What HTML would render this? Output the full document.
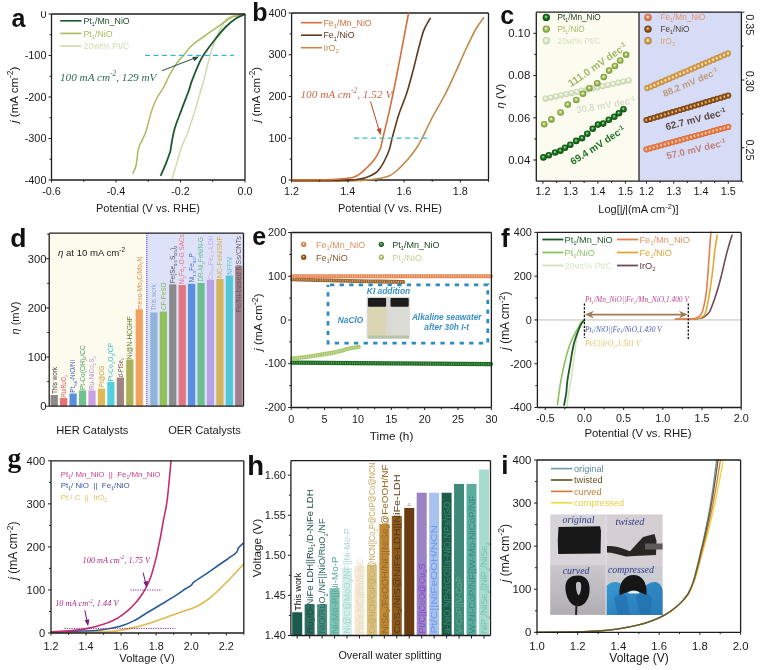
<!DOCTYPE html>
<html><head><meta charset="utf-8"><title>Figure</title>
<style>
html,body{margin:0;padding:0;background:#fff;}
body{width:763px;height:670px;overflow:hidden;}
svg{display:block;font-family:"Liberation Sans", Arial, sans-serif;filter:blur(0.4px);}
</style></head><body>
<svg width="763" height="670" viewBox="0 0 763 670">
<defs><radialGradient id="gMn" cx="0.5" cy="0.5" r="0.55" fx="0.45" fy="0.4"><stop offset="0" stop-color="#8ee08e"/><stop offset="0.1" stop-color="#8ee08e"/><stop offset="0.42" stop-color="#1f7a24"/><stop offset="1" stop-color="#0b3d0e"/></radialGradient>
<radialGradient id="gNi" cx="0.5" cy="0.5" r="0.55" fx="0.45" fy="0.4"><stop offset="0" stop-color="#eef7c8"/><stop offset="0.1" stop-color="#eef7c8"/><stop offset="0.42" stop-color="#a3c05a"/><stop offset="1" stop-color="#6e8c34"/></radialGradient>
<radialGradient id="gPC" cx="0.5" cy="0.5" r="0.55" fx="0.45" fy="0.4"><stop offset="0" stop-color="#ffffff"/><stop offset="0.1" stop-color="#ffffff"/><stop offset="0.42" stop-color="#dde8c8"/><stop offset="1" stop-color="#c2d0a8"/></radialGradient>
<radialGradient id="gFM" cx="0.5" cy="0.5" r="0.55" fx="0.45" fy="0.4"><stop offset="0" stop-color="#ffe0c8"/><stop offset="0.1" stop-color="#ffe0c8"/><stop offset="0.42" stop-color="#ea8a58"/><stop offset="1" stop-color="#c0582a"/></radialGradient>
<radialGradient id="gFN" cx="0.5" cy="0.5" r="0.55" fx="0.45" fy="0.4"><stop offset="0" stop-color="#f4d0a0"/><stop offset="0.1" stop-color="#f4d0a0"/><stop offset="0.42" stop-color="#9a5a1a"/><stop offset="1" stop-color="#5e3208"/></radialGradient>
<radialGradient id="gIr" cx="0.5" cy="0.5" r="0.55" fx="0.45" fy="0.4"><stop offset="0" stop-color="#fff0c8"/><stop offset="0.1" stop-color="#fff0c8"/><stop offset="0.42" stop-color="#dca55a"/><stop offset="1" stop-color="#a8742a"/></radialGradient>
<radialGradient id="gIr2" cx="0.5" cy="0.5" r="0.5"><stop offset="0" stop-color="#fff4d0"/><stop offset="0.25" stop-color="#f4d8a0"/><stop offset="0.55" stop-color="#d8a050"/><stop offset="1" stop-color="#c08838"/></radialGradient>
<radialGradient id="gFN2" cx="0.5" cy="0.5" r="0.5"><stop offset="0" stop-color="#f8dcb0"/><stop offset="0.25" stop-color="#d8a060"/><stop offset="0.55" stop-color="#94561a"/><stop offset="1" stop-color="#6e3c0c"/></radialGradient>
<radialGradient id="gFM2" cx="0.5" cy="0.5" r="0.5"><stop offset="0" stop-color="#ffe4cc"/><stop offset="0.25" stop-color="#f8b890"/><stop offset="0.55" stop-color="#e8804c"/><stop offset="1" stop-color="#d06a38"/></radialGradient>
<radialGradient id="gE1" cx="0.5" cy="0.5" r="0.55" fx="0.45" fy="0.4"><stop offset="0" stop-color="#ffe0c8"/><stop offset="0.1" stop-color="#ffe0c8"/><stop offset="0.42" stop-color="#e89060"/><stop offset="1" stop-color="#b86030"/></radialGradient>
<radialGradient id="gE2" cx="0.5" cy="0.5" r="0.55" fx="0.45" fy="0.4"><stop offset="0" stop-color="#f0c898"/><stop offset="0.1" stop-color="#f0c898"/><stop offset="0.42" stop-color="#9a6028"/><stop offset="1" stop-color="#603810"/></radialGradient>
<radialGradient id="gE3" cx="0.5" cy="0.5" r="0.55" fx="0.45" fy="0.4"><stop offset="0" stop-color="#a0e0a0"/><stop offset="0.1" stop-color="#a0e0a0"/><stop offset="0.42" stop-color="#2a7a2a"/><stop offset="1" stop-color="#0e400e"/></radialGradient>
<radialGradient id="gE4" cx="0.5" cy="0.5" r="0.55" fx="0.45" fy="0.4"><stop offset="0" stop-color="#f4fad8"/><stop offset="0.1" stop-color="#f4fad8"/><stop offset="0.42" stop-color="#b8cc80"/><stop offset="1" stop-color="#8aa050"/></radialGradient>
<linearGradient id="gBL" x1="0" y1="0" x2="0" y2="1"><stop offset="0" stop-color="#cac8cc"/><stop offset="1" stop-color="#b0aeb3"/></linearGradient>
<linearGradient id="gGl" x1="0" y1="0" x2="1" y2="1"><stop offset="0" stop-color="#3b9ad2"/><stop offset="0.5" stop-color="#2d86c2"/><stop offset="1" stop-color="#2a7cb8"/></linearGradient></defs>
<rect width="763" height="670" fill="#fff"/>
<path d="M172 179.3 C172.7 176.92 174.65 170.23 176.2 165 C177.75 159.77 179.3 153.58 181.3 147.9 C183.3 142.22 185.92 137.15 188.2 130.9 C190.48 124.65 192.88 117.22 195 110.4 C197.12 103.58 199.48 94.8 200.9 90 C202.32 85.2 202.22 86.42 203.5 81.6 C204.78 76.78 206.9 67.35 208.6 61.1 C210.3 54.85 212 48.92 213.7 44.1 C215.4 39.28 216.82 36.18 218.8 32.2 C220.78 28.22 223.32 22.9 225.6 20.2 C227.88 17.5 229.35 16.98 232.5 16 C235.65 15.02 242.5 14.58 244.5 14.3" fill="none" stroke="#cfdcae" stroke-width="1.5" stroke-linejoin="round" stroke-linecap="round" />
<path d="M132.8 173.5 C133.37 172.08 135.22 169.27 136.2 165 C137.18 160.73 137.13 153.3 138.7 147.9 C140.27 142.5 143.6 138.27 145.6 132.6 C147.6 126.93 149 119.33 150.7 113.9 C152.4 108.47 153.72 104.32 155.8 100 C157.88 95.68 160.95 92.08 163.2 88 C165.45 83.92 167.5 78.95 169.3 75.5 C171.1 72.05 172.42 69.8 174 67.3 C175.58 64.8 177.22 62.47 178.8 60.5 C180.38 58.53 181.37 57.95 183.5 55.5 C185.63 53.05 187.98 49.12 191.6 45.8 C195.22 42.48 200.67 38.87 205.2 35.6 C209.73 32.33 214.53 29.18 218.8 26.2 C223.07 23.22 226.52 19.68 230.8 17.7 C235.08 15.72 242.22 14.87 244.5 14.3" fill="none" stroke="#a9bb5e" stroke-width="1.5" stroke-linejoin="round" stroke-linecap="round" />
<path d="M160.9 175.2 C161.75 173.22 164.43 167.28 166 163.3 C167.57 159.32 169.45 154.15 170.3 151.3 C171.15 148.45 170.4 149.88 171.1 146.2 C171.8 142.52 172.8 135.17 174.5 129.2 C176.2 123.23 178.88 116.93 181.3 110.4 C183.72 103.87 187.28 94.8 189 90 C190.72 85.2 189.75 86.42 191.6 81.6 C193.45 76.78 197.83 65.93 200.1 61.1 C202.37 56.27 202.65 56.28 205.2 52.6 C207.75 48.92 212 43.27 215.4 39 C218.8 34.73 222.18 30.42 225.6 27 C229.02 23.58 232.75 20.58 235.9 18.5 C239.05 16.42 243.07 15.17 244.5 14.5" fill="none" stroke="#1f5a2c" stroke-width="1.8" stroke-linejoin="round" stroke-linecap="round" />
<line x1="145" y1="55.4" x2="234" y2="55.4" stroke="#3cb4d4" stroke-width="1.3" stroke-dasharray="5 3.5"/>
<line x1="162" y1="70.7" x2="196" y2="57.6" stroke="#234f40" stroke-width="1" />
<path d="M199 56.6 L192.2 57 L194.6 61.2 Z" fill="#234f40"/>
<line x1="51.5" y1="14" x2="245" y2="14" stroke="#1e1e1e" stroke-width="1.3" />
<line x1="51.5" y1="180" x2="245" y2="180" stroke="#1e1e1e" stroke-width="1.3" />
<line x1="51.5" y1="14" x2="51.5" y2="180" stroke="#1e1e1e" stroke-width="1.3" />
<line x1="245" y1="14" x2="245" y2="180" stroke="#1e1e1e" stroke-width="1.3" />
<line x1="51.5" y1="55.5" x2="48.5" y2="55.5" stroke="#1e1e1e" stroke-width="1" />
<line x1="51.5" y1="97" x2="48.5" y2="97" stroke="#1e1e1e" stroke-width="1" />
<line x1="51.5" y1="138.5" x2="48.5" y2="138.5" stroke="#1e1e1e" stroke-width="1" />
<line x1="51.5" y1="180" x2="48.5" y2="180" stroke="#1e1e1e" stroke-width="1" />
<line x1="51.5" y1="14" x2="48.5" y2="14" stroke="#1e1e1e" stroke-width="1" />
<line x1="51.5" y1="34.75" x2="49.5" y2="34.75" stroke="#1e1e1e" stroke-width="1" />
<line x1="51.5" y1="76.25" x2="49.5" y2="76.25" stroke="#1e1e1e" stroke-width="1" />
<line x1="51.5" y1="117.75" x2="49.5" y2="117.75" stroke="#1e1e1e" stroke-width="1" />
<line x1="51.5" y1="159.25" x2="49.5" y2="159.25" stroke="#1e1e1e" stroke-width="1" />
<line x1="51.5" y1="180" x2="51.5" y2="182.5" stroke="#1e1e1e" stroke-width="1" />
<line x1="116" y1="180" x2="116" y2="182.5" stroke="#1e1e1e" stroke-width="1" />
<line x1="180.5" y1="180" x2="180.5" y2="182.5" stroke="#1e1e1e" stroke-width="1" />
<line x1="245" y1="180" x2="245" y2="182.5" stroke="#1e1e1e" stroke-width="1" />
<line x1="83.75" y1="180" x2="83.75" y2="181.8" stroke="#1e1e1e" stroke-width="1" />
<line x1="148.25" y1="180" x2="148.25" y2="181.8" stroke="#1e1e1e" stroke-width="1" />
<line x1="212.75" y1="180" x2="212.75" y2="181.8" stroke="#1e1e1e" stroke-width="1" />
<text x="46.5" y="17.7" font-size="10.9" fill="#1a1a1a" text-anchor="end" >0</text>
<text x="46.5" y="59.2" font-size="10.9" fill="#1a1a1a" text-anchor="end" >-100</text>
<text x="46.5" y="100.7" font-size="10.9" fill="#1a1a1a" text-anchor="end" >-200</text>
<text x="46.5" y="142.2" font-size="10.9" fill="#1a1a1a" text-anchor="end" >-300</text>
<text x="46.5" y="183.7" font-size="10.9" fill="#1a1a1a" text-anchor="end" >-400</text>
<text x="51.5" y="194.5" font-size="10.8" fill="#1a1a1a" text-anchor="middle" >-0.6</text>
<text x="116" y="194.5" font-size="10.8" fill="#1a1a1a" text-anchor="middle" >-0.4</text>
<text x="180.5" y="194.5" font-size="10.8" fill="#1a1a1a" text-anchor="middle" >-0.2</text>
<text x="245" y="194.5" font-size="10.8" fill="#1a1a1a" text-anchor="middle" >0.0</text>
<rect x="38" y="0" width="10" height="11.2" fill="#fff" />
<text x="148" y="212" font-size="11" fill="#1a1a1a" text-anchor="middle" >Potential (V vs. RHE)</text>
<text x="17.8" y="94.8" font-size="11.6" fill="#1a1a1a" text-anchor="middle" transform="rotate(-90 17.8 94.8)"><tspan font-style="italic">j</tspan> (mA cm<tspan font-size="8.35" dy="-4.5">-2</tspan><tspan dy="4.5">)</tspan></text>
<text x="11.5" y="26.5" font-size="25" fill="#111" text-anchor="start" font-weight="bold" >a</text>
<line x1="60.2" y1="20.8" x2="81.5" y2="20.8" stroke="#1f5a2c" stroke-width="1.6" />
<text x="83.5" y="24" font-size="8.8" fill="#1f4a2a" text-anchor="start"><tspan>Pt</tspan><tspan font-size="5.72" dy="2.2">1</tspan><tspan dy="-2.2">/Mn_NiO</tspan></text>
<line x1="60.2" y1="33.4" x2="81.5" y2="33.4" stroke="#a9bb5e" stroke-width="1.6" />
<text x="83.5" y="36.6" font-size="8.8" fill="#a9bb5e" text-anchor="start"><tspan>Pt</tspan><tspan font-size="5.72" dy="2.2">1</tspan><tspan dy="-2.2">/NiO</tspan></text>
<line x1="60.2" y1="46" x2="81.5" y2="46" stroke="#cfdcae" stroke-width="1.6" />
<text x="83.5" y="49.2" font-size="8.8" fill="#cfdcae" text-anchor="start"><tspan>20wt% Pt/C</tspan></text>
<text x="60" y="80.5" font-size="11.2" fill="#2a6a5a" text-anchor="start" font-style="italic" font-family='"Liberation Serif", "Times New Roman", serif'><tspan>100 mA cm</tspan><tspan font-size="7.28" dy="-4.48">-2</tspan><tspan dy="4.48">, 129 mV</tspan></text>
<line x1="291.6" y1="13" x2="488.5" y2="13" stroke="#1e1e1e" stroke-width="1.3" />
<line x1="291.6" y1="180" x2="488.5" y2="180" stroke="#1e1e1e" stroke-width="1.3" />
<line x1="291.6" y1="13" x2="291.6" y2="180" stroke="#1e1e1e" stroke-width="1.3" />
<line x1="488.5" y1="13" x2="488.5" y2="180" stroke="#1e1e1e" stroke-width="1.3" />
<path d="M292.6 181.1 C298.83 181.1 319.6 181.17 330 181.1 C340.4 181.03 348.33 180.93 355 180.7 C361.67 180.47 365.83 180.1 370 179.7 C374.17 179.3 376.65 179 380 178.3 C383.35 177.6 386.88 177.17 390.1 175.5 C393.32 173.83 396.25 171.08 399.3 168.3 C402.35 165.52 405.53 162.18 408.4 158.8 C411.27 155.42 414.23 151.38 416.5 148 C418.77 144.62 419.5 143.33 422 138.5 C424.5 133.67 427.75 126.17 431.5 119 C435.25 111.83 440.58 103.08 444.5 95.5 C448.42 87.92 451.5 81.08 455 73.5 C458.5 65.92 462.02 57.42 465.5 50 C468.98 42.58 472.87 34.37 475.9 29 C478.93 23.63 482.4 19.67 483.7 17.8" fill="none" stroke="#c08a48" stroke-width="1.6" stroke-linejoin="round" stroke-linecap="round" />
<path d="M292.6 180.4 C300.5 180.4 329.6 180.5 340 180.4 C350.4 180.3 350.63 180.28 355 179.8 C359.37 179.32 362.8 178.63 366.2 177.5 C369.6 176.37 373.1 174.53 375.4 173 C377.7 171.47 378.47 170.38 380 168.3 C381.53 166.22 383.07 163.55 384.6 160.5 C386.13 157.45 387.93 153.73 389.2 150 C390.47 146.27 390.6 144.02 392.2 138.1 C393.8 132.18 396.4 121.92 398.8 114.5 C401.2 107.08 404.2 101 406.6 93.6 C409 86.2 411.23 77.5 413.2 70.1 C415.17 62.7 416.67 55.73 418.4 49.2 C420.13 42.67 421.85 35.68 423.6 30.9 C425.35 26.12 427.77 22.57 428.9 20.5 C430.03 18.43 430.15 18.83 430.4 18.5" fill="none" stroke="#5b3a1e" stroke-width="1.6" stroke-linejoin="round" stroke-linecap="round" />
<path d="M292.6 179.7 C298 179.7 317.1 179.82 325 179.7 C332.9 179.58 335.27 179.4 340 179 C344.73 178.6 349.9 178.3 353.4 177.3 C356.9 176.3 358.87 174.5 361 173 C363.13 171.5 364.1 170.38 366.2 168.3 C368.3 166.22 371.3 163.63 373.6 160.5 C375.9 157.37 378.47 153.22 380 149.5 C381.53 145.78 381.18 144.9 382.8 138.2 C384.42 131.5 387.47 119.33 389.7 109.3 C391.93 99.27 394.03 88.88 396.2 78 C398.37 67.12 400.65 54.75 402.7 44 C404.75 33.25 407.53 18.58 408.5 13.5" fill="none" stroke="#d2703e" stroke-width="1.6" stroke-linejoin="round" stroke-linecap="round" />
<line x1="354" y1="138.2" x2="429" y2="138.2" stroke="#3cb4d4" stroke-width="1.3" stroke-dasharray="5 3.5"/>
<line x1="370.5" y1="101.5" x2="379.2" y2="130.5" stroke="#b84a2a" stroke-width="1" />
<path d="M380.6 135.3 L376.6 129.2 L381.3 128 Z" fill="#b84a2a"/>
<line x1="291.6" y1="180" x2="288.6" y2="180" stroke="#1e1e1e" stroke-width="1" />
<line x1="291.6" y1="138.25" x2="288.6" y2="138.25" stroke="#1e1e1e" stroke-width="1" />
<line x1="291.6" y1="96.5" x2="288.6" y2="96.5" stroke="#1e1e1e" stroke-width="1" />
<line x1="291.6" y1="54.75" x2="288.6" y2="54.75" stroke="#1e1e1e" stroke-width="1" />
<line x1="291.6" y1="13" x2="288.6" y2="13" stroke="#1e1e1e" stroke-width="1" />
<line x1="291.6" y1="159.12" x2="289.6" y2="159.12" stroke="#1e1e1e" stroke-width="1" />
<line x1="291.6" y1="117.38" x2="289.6" y2="117.38" stroke="#1e1e1e" stroke-width="1" />
<line x1="291.6" y1="75.62" x2="289.6" y2="75.62" stroke="#1e1e1e" stroke-width="1" />
<line x1="291.6" y1="33.88" x2="289.6" y2="33.88" stroke="#1e1e1e" stroke-width="1" />
<line x1="291.6" y1="180" x2="291.6" y2="182.5" stroke="#1e1e1e" stroke-width="1" />
<line x1="347.86" y1="180" x2="347.86" y2="182.5" stroke="#1e1e1e" stroke-width="1" />
<line x1="404.11" y1="180" x2="404.11" y2="182.5" stroke="#1e1e1e" stroke-width="1" />
<line x1="460.37" y1="180" x2="460.37" y2="182.5" stroke="#1e1e1e" stroke-width="1" />
<line x1="319.73" y1="180" x2="319.73" y2="181.8" stroke="#1e1e1e" stroke-width="1" />
<line x1="375.99" y1="180" x2="375.99" y2="181.8" stroke="#1e1e1e" stroke-width="1" />
<line x1="432.24" y1="180" x2="432.24" y2="181.8" stroke="#1e1e1e" stroke-width="1" />
<line x1="488.5" y1="180" x2="488.5" y2="181.8" stroke="#1e1e1e" stroke-width="1" />
<text x="286.6" y="183.7" font-size="10.9" fill="#1a1a1a" text-anchor="end" >0</text>
<text x="286.6" y="141.95" font-size="10.9" fill="#1a1a1a" text-anchor="end" >100</text>
<text x="286.6" y="100.2" font-size="10.9" fill="#1a1a1a" text-anchor="end" >200</text>
<text x="286.6" y="58.45" font-size="10.9" fill="#1a1a1a" text-anchor="end" >300</text>
<text x="286.6" y="16.7" font-size="10.9" fill="#1a1a1a" text-anchor="end" >400</text>
<text x="291.6" y="195.3" font-size="10.8" fill="#1a1a1a" text-anchor="middle" >1.2</text>
<text x="347.86" y="195.3" font-size="10.8" fill="#1a1a1a" text-anchor="middle" >1.4</text>
<text x="404.11" y="195.3" font-size="10.8" fill="#1a1a1a" text-anchor="middle" >1.6</text>
<text x="460.37" y="195.3" font-size="10.8" fill="#1a1a1a" text-anchor="middle" >1.8</text>
<text x="390" y="212" font-size="11" fill="#1a1a1a" text-anchor="middle" >Potential (V vs. RHE)</text>
<text x="259.8" y="94.6" font-size="11.4" fill="#1a1a1a" text-anchor="middle" transform="rotate(-90 259.8 94.6)"><tspan font-style="italic">j</tspan> (mA cm<tspan font-size="8.21" dy="-4.5">-2</tspan><tspan dy="4.5">)</tspan></text>
<text x="252.2" y="21" font-size="25" fill="#111" text-anchor="start" font-weight="bold" >b</text>
<line x1="301" y1="22.7" x2="322" y2="22.7" stroke="#d2703e" stroke-width="1.6" />
<text x="323.5" y="25.9" font-size="8.8" fill="#d2703e" text-anchor="start"><tspan>Fe</tspan><tspan font-size="5.72" dy="2.2">1</tspan><tspan dy="-2.2">/Mn_NiO</tspan></text>
<line x1="301" y1="35.2" x2="322" y2="35.2" stroke="#5b3a1e" stroke-width="1.6" />
<text x="323.5" y="38.4" font-size="8.8" fill="#5b3a1e" text-anchor="start"><tspan>Fe</tspan><tspan font-size="5.72" dy="2.2">1</tspan><tspan dy="-2.2">/NiO</tspan></text>
<line x1="301" y1="47.7" x2="322" y2="47.7" stroke="#c08a48" stroke-width="1.6" />
<text x="323.5" y="50.9" font-size="8.8" fill="#c08a48" text-anchor="start"><tspan>IrO</tspan><tspan font-size="5.72" dy="2.2">2</tspan></text>
<text x="300.4" y="97.5" font-size="11.3" fill="#c86a4a" text-anchor="start" font-style="italic" font-family='"Liberation Serif", "Times New Roman", serif'><tspan>100 mA cm</tspan><tspan font-size="7.35" dy="-4.52">-2</tspan><tspan dy="4.52">, 1.52 V</tspan></text>
<rect x="536.3" y="12.2" width="102.7" height="169" fill="#fcfbef" />
<rect x="639" y="12.2" width="102.4" height="169" fill="#d6dbf6" />
<circle cx="545.5" cy="98.7" r="3.1" fill="url(#gPC)"/>
<circle cx="550.7" cy="97.56" r="3.1" fill="url(#gPC)"/>
<circle cx="555.9" cy="96.41" r="3.1" fill="url(#gPC)"/>
<circle cx="561.1" cy="95.27" r="3.1" fill="url(#gPC)"/>
<circle cx="566.3" cy="94.12" r="3.1" fill="url(#gPC)"/>
<circle cx="571.5" cy="92.98" r="3.1" fill="url(#gPC)"/>
<circle cx="576.7" cy="91.84" r="3.1" fill="url(#gPC)"/>
<circle cx="581.9" cy="90.69" r="3.1" fill="url(#gPC)"/>
<circle cx="587.1" cy="89.55" r="3.1" fill="url(#gPC)"/>
<circle cx="592.3" cy="88.41" r="3.1" fill="url(#gPC)"/>
<circle cx="597.5" cy="87.26" r="3.1" fill="url(#gPC)"/>
<circle cx="602.7" cy="86.12" r="3.1" fill="url(#gPC)"/>
<circle cx="607.9" cy="84.98" r="3.1" fill="url(#gPC)"/>
<circle cx="613.1" cy="83.83" r="3.1" fill="url(#gPC)"/>
<circle cx="618.3" cy="82.69" r="3.1" fill="url(#gPC)"/>
<circle cx="623.5" cy="81.54" r="3.1" fill="url(#gPC)"/>
<circle cx="628.7" cy="80.4" r="3.1" fill="url(#gPC)"/>
<circle cx="544.2" cy="124.3" r="3.3" fill="url(#gNi)"/>
<circle cx="551.4" cy="119.4" r="3.3" fill="url(#gNi)"/>
<circle cx="560.6" cy="112.5" r="3.3" fill="url(#gNi)"/>
<circle cx="567.8" cy="104.6" r="3.3" fill="url(#gNi)"/>
<circle cx="576.3" cy="100" r="3.3" fill="url(#gNi)"/>
<circle cx="582.9" cy="93.8" r="3.3" fill="url(#gNi)"/>
<circle cx="589.4" cy="88.3" r="3.3" fill="url(#gNi)"/>
<circle cx="597.3" cy="83.3" r="3.3" fill="url(#gNi)"/>
<circle cx="603.8" cy="77.1" r="3.3" fill="url(#gNi)"/>
<circle cx="609.1" cy="70.6" r="3.3" fill="url(#gNi)"/>
<circle cx="615" cy="66" r="3.3" fill="url(#gNi)"/>
<circle cx="620.2" cy="60.5" r="3.3" fill="url(#gNi)"/>
<circle cx="626.1" cy="54.8" r="3.3" fill="url(#gNi)"/>
<circle cx="543.4" cy="157.4" r="3.3" fill="url(#gMn)"/>
<circle cx="548.8" cy="155.2" r="3.3" fill="url(#gMn)"/>
<circle cx="555.1" cy="152.5" r="3.3" fill="url(#gMn)"/>
<circle cx="560.4" cy="150.8" r="3.3" fill="url(#gMn)"/>
<circle cx="565" cy="147.7" r="3.3" fill="url(#gMn)"/>
<circle cx="570.3" cy="144.8" r="3.3" fill="url(#gMn)"/>
<circle cx="576.2" cy="140.9" r="3.3" fill="url(#gMn)"/>
<circle cx="582" cy="138.2" r="3.3" fill="url(#gMn)"/>
<circle cx="587.3" cy="133.7" r="3.3" fill="url(#gMn)"/>
<circle cx="592.7" cy="128.8" r="3.3" fill="url(#gMn)"/>
<circle cx="598" cy="124.6" r="3.3" fill="url(#gMn)"/>
<circle cx="603.2" cy="123.6" r="3.3" fill="url(#gMn)"/>
<circle cx="608.8" cy="119.7" r="3.3" fill="url(#gMn)"/>
<circle cx="614.3" cy="116.8" r="3.3" fill="url(#gMn)"/>
<circle cx="618.9" cy="113.2" r="3.3" fill="url(#gMn)"/>
<circle cx="623.5" cy="109.2" r="3.3" fill="url(#gMn)"/>
<circle cx="647.3" cy="88.1" r="3.1" fill="url(#gIr2)"/>
<circle cx="650.96" cy="86.52" r="3.1" fill="url(#gIr2)"/>
<circle cx="654.63" cy="84.95" r="3.1" fill="url(#gIr2)"/>
<circle cx="658.29" cy="83.37" r="3.1" fill="url(#gIr2)"/>
<circle cx="661.95" cy="81.79" r="3.1" fill="url(#gIr2)"/>
<circle cx="665.62" cy="80.21" r="3.1" fill="url(#gIr2)"/>
<circle cx="669.28" cy="78.64" r="3.1" fill="url(#gIr2)"/>
<circle cx="672.95" cy="77.06" r="3.1" fill="url(#gIr2)"/>
<circle cx="676.61" cy="75.48" r="3.1" fill="url(#gIr2)"/>
<circle cx="680.27" cy="73.9" r="3.1" fill="url(#gIr2)"/>
<circle cx="683.94" cy="72.33" r="3.1" fill="url(#gIr2)"/>
<circle cx="687.6" cy="70.75" r="3.1" fill="url(#gIr2)"/>
<circle cx="691.26" cy="69.17" r="3.1" fill="url(#gIr2)"/>
<circle cx="694.93" cy="67.6" r="3.1" fill="url(#gIr2)"/>
<circle cx="698.59" cy="66.02" r="3.1" fill="url(#gIr2)"/>
<circle cx="702.25" cy="64.44" r="3.1" fill="url(#gIr2)"/>
<circle cx="705.92" cy="62.86" r="3.1" fill="url(#gIr2)"/>
<circle cx="709.58" cy="61.29" r="3.1" fill="url(#gIr2)"/>
<circle cx="713.25" cy="59.71" r="3.1" fill="url(#gIr2)"/>
<circle cx="716.91" cy="58.13" r="3.1" fill="url(#gIr2)"/>
<circle cx="720.57" cy="56.55" r="3.1" fill="url(#gIr2)"/>
<circle cx="724.24" cy="54.98" r="3.1" fill="url(#gIr2)"/>
<circle cx="727.9" cy="53.4" r="3.1" fill="url(#gIr2)"/>
<circle cx="646.5" cy="120" r="3.1" fill="url(#gFN2)"/>
<circle cx="650.21" cy="118.89" r="3.1" fill="url(#gFN2)"/>
<circle cx="653.93" cy="117.77" r="3.1" fill="url(#gFN2)"/>
<circle cx="657.64" cy="116.66" r="3.1" fill="url(#gFN2)"/>
<circle cx="661.35" cy="115.55" r="3.1" fill="url(#gFN2)"/>
<circle cx="665.07" cy="114.43" r="3.1" fill="url(#gFN2)"/>
<circle cx="668.78" cy="113.32" r="3.1" fill="url(#gFN2)"/>
<circle cx="672.5" cy="112.2" r="3.1" fill="url(#gFN2)"/>
<circle cx="676.21" cy="111.09" r="3.1" fill="url(#gFN2)"/>
<circle cx="679.92" cy="109.98" r="3.1" fill="url(#gFN2)"/>
<circle cx="683.64" cy="108.86" r="3.1" fill="url(#gFN2)"/>
<circle cx="687.35" cy="107.75" r="3.1" fill="url(#gFN2)"/>
<circle cx="691.06" cy="106.64" r="3.1" fill="url(#gFN2)"/>
<circle cx="694.78" cy="105.52" r="3.1" fill="url(#gFN2)"/>
<circle cx="698.49" cy="104.41" r="3.1" fill="url(#gFN2)"/>
<circle cx="702.2" cy="103.3" r="3.1" fill="url(#gFN2)"/>
<circle cx="705.92" cy="102.18" r="3.1" fill="url(#gFN2)"/>
<circle cx="709.63" cy="101.07" r="3.1" fill="url(#gFN2)"/>
<circle cx="713.35" cy="99.95" r="3.1" fill="url(#gFN2)"/>
<circle cx="717.06" cy="98.84" r="3.1" fill="url(#gFN2)"/>
<circle cx="720.77" cy="97.73" r="3.1" fill="url(#gFN2)"/>
<circle cx="724.49" cy="96.61" r="3.1" fill="url(#gFN2)"/>
<circle cx="728.2" cy="95.5" r="3.1" fill="url(#gFN2)"/>
<circle cx="646.5" cy="149.3" r="3.1" fill="url(#gFM2)"/>
<circle cx="650.21" cy="148.28" r="3.1" fill="url(#gFM2)"/>
<circle cx="653.93" cy="147.26" r="3.1" fill="url(#gFM2)"/>
<circle cx="657.64" cy="146.25" r="3.1" fill="url(#gFM2)"/>
<circle cx="661.35" cy="145.23" r="3.1" fill="url(#gFM2)"/>
<circle cx="665.07" cy="144.21" r="3.1" fill="url(#gFM2)"/>
<circle cx="668.78" cy="143.19" r="3.1" fill="url(#gFM2)"/>
<circle cx="672.5" cy="142.17" r="3.1" fill="url(#gFM2)"/>
<circle cx="676.21" cy="141.15" r="3.1" fill="url(#gFM2)"/>
<circle cx="679.92" cy="140.14" r="3.1" fill="url(#gFM2)"/>
<circle cx="683.64" cy="139.12" r="3.1" fill="url(#gFM2)"/>
<circle cx="687.35" cy="138.1" r="3.1" fill="url(#gFM2)"/>
<circle cx="691.06" cy="137.08" r="3.1" fill="url(#gFM2)"/>
<circle cx="694.78" cy="136.06" r="3.1" fill="url(#gFM2)"/>
<circle cx="698.49" cy="135.05" r="3.1" fill="url(#gFM2)"/>
<circle cx="702.2" cy="134.03" r="3.1" fill="url(#gFM2)"/>
<circle cx="705.92" cy="133.01" r="3.1" fill="url(#gFM2)"/>
<circle cx="709.63" cy="131.99" r="3.1" fill="url(#gFM2)"/>
<circle cx="713.35" cy="130.97" r="3.1" fill="url(#gFM2)"/>
<circle cx="717.06" cy="129.95" r="3.1" fill="url(#gFM2)"/>
<circle cx="720.77" cy="128.94" r="3.1" fill="url(#gFM2)"/>
<circle cx="724.49" cy="127.92" r="3.1" fill="url(#gFM2)"/>
<circle cx="728.2" cy="126.9" r="3.1" fill="url(#gFM2)"/>
<text x="599.63" y="67.64" font-size="10.2" font-weight="bold" fill="#a0b868" text-anchor="middle" transform="rotate(-34.6 599.63 67.64)">111.0 mV dec<tspan font-size="6.63" dy="-3.5">-1</tspan></text>
<text x="606.34" y="108.24" font-size="9.4" font-weight="bold" fill="#d8dec8" text-anchor="middle" transform="rotate(-9.5 606.34 108.24)">30.8 mV dec<tspan font-size="6.11" dy="-3.5">-1</tspan></text>
<text x="599.48" y="148.31" font-size="9.9" font-weight="bold" fill="#1f7224" text-anchor="middle" transform="rotate(-32.8 599.48 148.31)">69.4 mV dec<tspan font-size="6.44" dy="-3.5">-1</tspan></text>
<text x="691.67" y="85.5" font-size="9.3" font-weight="bold" fill="#bc9c7c" text-anchor="middle" transform="rotate(-23 691.67 85.5)">88.2 mV dec<tspan font-size="6.05" dy="-3.5">-1</tspan></text>
<text x="696.55" y="122.51" font-size="9.75" font-weight="bold" fill="#5c4a3e" text-anchor="middle" transform="rotate(-14.4 696.55 122.51)">62.7 mV dec<tspan font-size="6.34" dy="-3.5">-1</tspan></text>
<text x="696.95" y="152.46" font-size="9.55" font-weight="bold" fill="#c08078" text-anchor="middle" transform="rotate(-13 696.95 152.46)">57.0 mV dec<tspan font-size="6.21" dy="-3.5">-1</tspan></text>
<line x1="536.3" y1="12.2" x2="741.4" y2="12.2" stroke="#1e1e1e" stroke-width="1.3" />
<line x1="536.3" y1="181.2" x2="741.4" y2="181.2" stroke="#1e1e1e" stroke-width="1.3" />
<line x1="536.3" y1="12.2" x2="536.3" y2="181.2" stroke="#1e1e1e" stroke-width="1.3" />
<line x1="741.4" y1="12.2" x2="741.4" y2="181.2" stroke="#1e1e1e" stroke-width="1.3" />
<line x1="639" y1="12.2" x2="639" y2="181.2" stroke="#333" stroke-width="1.4" />
<line x1="536.3" y1="33.32" x2="533.3" y2="33.32" stroke="#1e1e1e" stroke-width="1" />
<line x1="536.3" y1="75.56" x2="533.3" y2="75.56" stroke="#1e1e1e" stroke-width="1" />
<line x1="536.3" y1="117.8" x2="533.3" y2="117.8" stroke="#1e1e1e" stroke-width="1" />
<line x1="536.3" y1="160.04" x2="533.3" y2="160.04" stroke="#1e1e1e" stroke-width="1" />
<line x1="536.3" y1="54.44" x2="534.3" y2="54.44" stroke="#1e1e1e" stroke-width="1" />
<line x1="536.3" y1="96.68" x2="534.3" y2="96.68" stroke="#1e1e1e" stroke-width="1" />
<line x1="536.3" y1="138.92" x2="534.3" y2="138.92" stroke="#1e1e1e" stroke-width="1" />
<line x1="741.4" y1="12.2" x2="744.4" y2="12.2" stroke="#1e1e1e" stroke-width="1" />
<line x1="741.4" y1="80" x2="744.4" y2="80" stroke="#1e1e1e" stroke-width="1" />
<line x1="741.4" y1="147.8" x2="744.4" y2="147.8" stroke="#1e1e1e" stroke-width="1" />
<line x1="741.4" y1="46.1" x2="743.4" y2="46.1" stroke="#1e1e1e" stroke-width="1" />
<line x1="741.4" y1="113.9" x2="743.4" y2="113.9" stroke="#1e1e1e" stroke-width="1" />
<line x1="741.4" y1="181.7" x2="743.4" y2="181.7" stroke="#1e1e1e" stroke-width="1" />
<line x1="542.9" y1="181.2" x2="542.9" y2="183.7" stroke="#1e1e1e" stroke-width="1" />
<line x1="570.4" y1="181.2" x2="570.4" y2="183.7" stroke="#1e1e1e" stroke-width="1" />
<line x1="597.9" y1="181.2" x2="597.9" y2="183.7" stroke="#1e1e1e" stroke-width="1" />
<line x1="625.4" y1="181.2" x2="625.4" y2="183.7" stroke="#1e1e1e" stroke-width="1" />
<line x1="646.5" y1="181.2" x2="646.5" y2="183.7" stroke="#1e1e1e" stroke-width="1" />
<line x1="673.77" y1="181.2" x2="673.77" y2="183.7" stroke="#1e1e1e" stroke-width="1" />
<line x1="701.04" y1="181.2" x2="701.04" y2="183.7" stroke="#1e1e1e" stroke-width="1" />
<line x1="728.31" y1="181.2" x2="728.31" y2="183.7" stroke="#1e1e1e" stroke-width="1" />
<line x1="556.65" y1="181.2" x2="556.65" y2="183" stroke="#1e1e1e" stroke-width="1" />
<line x1="584.15" y1="181.2" x2="584.15" y2="183" stroke="#1e1e1e" stroke-width="1" />
<line x1="611.65" y1="181.2" x2="611.65" y2="183" stroke="#1e1e1e" stroke-width="1" />
<line x1="660.13" y1="181.2" x2="660.13" y2="183" stroke="#1e1e1e" stroke-width="1" />
<line x1="687.41" y1="181.2" x2="687.41" y2="183" stroke="#1e1e1e" stroke-width="1" />
<line x1="714.67" y1="181.2" x2="714.67" y2="183" stroke="#1e1e1e" stroke-width="1" />
<text x="530.3" y="37.22" font-size="11.4" fill="#1a1a1a" text-anchor="end" >0.10</text>
<text x="530.3" y="79.46" font-size="11.4" fill="#1a1a1a" text-anchor="end" >0.08</text>
<text x="530.3" y="121.7" font-size="11.4" fill="#1a1a1a" text-anchor="end" >0.06</text>
<text x="530.3" y="163.94" font-size="11.4" fill="#1a1a1a" text-anchor="end" >0.04</text>
<text x="746" y="24.7" font-size="10.8" fill="#1a1a1a" text-anchor="middle" transform="rotate(90 746 24.7)" >0.35</text>
<text x="746" y="81.2" font-size="10.8" fill="#1a1a1a" text-anchor="middle" transform="rotate(90 746 81.2)" >0.30</text>
<text x="746" y="150" font-size="10.8" fill="#1a1a1a" text-anchor="middle" transform="rotate(90 746 150)" >0.25</text>
<text x="542.9" y="194.5" font-size="10.8" fill="#1a1a1a" text-anchor="middle" >1.2</text>
<text x="646.5" y="194.5" font-size="10.8" fill="#1a1a1a" text-anchor="middle" >1.2</text>
<text x="570.4" y="194.5" font-size="10.8" fill="#1a1a1a" text-anchor="middle" >1.3</text>
<text x="673.77" y="194.5" font-size="10.8" fill="#1a1a1a" text-anchor="middle" >1.3</text>
<text x="597.9" y="194.5" font-size="10.8" fill="#1a1a1a" text-anchor="middle" >1.4</text>
<text x="701.04" y="194.5" font-size="10.8" fill="#1a1a1a" text-anchor="middle" >1.4</text>
<text x="625.4" y="194.5" font-size="10.8" fill="#1a1a1a" text-anchor="middle" >1.5</text>
<text x="728.31" y="194.5" font-size="10.8" fill="#1a1a1a" text-anchor="middle" >1.5</text>
<text x="638.5" y="212.5" font-size="11" fill="#1a1a1a" text-anchor="middle">Log[|<tspan font-style="italic">j</tspan>|(mA cm<tspan font-size="7.5" dy="-4">-2</tspan><tspan dy="4">)]</tspan></text>
<text x="504" y="96" font-size="11.5" fill="#1a1a1a" text-anchor="middle" transform="rotate(-90 504 96)"><tspan font-style="italic">η</tspan> (V)</text>
<text x="500.3" y="24.3" font-size="25" fill="#111" text-anchor="start" font-weight="bold" >c</text>
<circle cx="546.3" cy="17.4" r="3.7" fill="url(#gMn)"/>
<text x="557.6" y="20.4" font-size="8.2" fill="#1e3a22" text-anchor="start"><tspan>Pt</tspan><tspan font-size="5.33" dy="2.05">1</tspan><tspan dy="-2.05">/Mn_NiO</tspan></text>
<circle cx="546.3" cy="29.1" r="3.7" fill="url(#gNi)"/>
<text x="557.6" y="32.1" font-size="8.2" fill="#a9bd6a" text-anchor="start"><tspan>Pt</tspan><tspan font-size="5.33" dy="2.05">1</tspan><tspan dy="-2.05">/NiO</tspan></text>
<circle cx="546.3" cy="40.8" r="3.7" fill="url(#gPC)"/>
<text x="557.6" y="43.8" font-size="8.2" fill="#d8e0c4" text-anchor="start"><tspan>20wt% Pt/C</tspan></text>
<circle cx="648" cy="17.4" r="3.7" fill="url(#gFM)"/>
<text x="660.5" y="20.4" font-size="8.2" fill="#e8906a" text-anchor="start"><tspan>Fe</tspan><tspan font-size="5.33" dy="2.05">1</tspan><tspan dy="-2.05">/Mn_NiO</tspan></text>
<circle cx="648" cy="29.1" r="3.7" fill="url(#gFN)"/>
<text x="660.5" y="32.1" font-size="8.2" fill="#4a3a2a" text-anchor="start"><tspan>Fe</tspan><tspan font-size="5.33" dy="2.05">1</tspan><tspan dy="-2.05">/NiO</tspan></text>
<circle cx="648" cy="40.8" r="3.7" fill="url(#gIr)"/>
<text x="660.5" y="43.8" font-size="8.2" fill="#d8a868" text-anchor="start"><tspan>IrO</tspan><tspan font-size="5.33" dy="2.05">2</tspan></text>
<rect x="49.2" y="233.2" width="97.6" height="173" fill="#fdfaee" />
<rect x="146.8" y="233.2" width="96.7" height="173" fill="#dde2f8" />
<rect x="50.6" y="394.99" width="7.2" height="11.21" fill="#8c8a88" />
<text x="56.5" y="394" font-size="6.4" fill="#333333" textLength="27" lengthAdjust="spacingAndGlyphs" transform="rotate(-90 56.5 394)"><tspan>This work</tspan></text>
<rect x="60.05" y="397.99" width="7.2" height="8.21" fill="#ea7078" />
<text x="65.95" y="397" font-size="6.4" fill="#e06070" textLength="22" lengthAdjust="spacingAndGlyphs" transform="rotate(-90 65.95 397)"><tspan>Ru/RuO</tspan><tspan font-size="4.16" dy="1.6">2</tspan></text>
<rect x="69.5" y="393.52" width="7.2" height="12.68" fill="#5890e0" />
<text x="75.4" y="392.7" font-size="6.4" fill="#3f6cc0" textLength="32.7" lengthAdjust="spacingAndGlyphs" transform="rotate(-90 75.4 392.7)"><tspan>Pt</tspan><tspan font-size="4.16" dy="1.6">SA</tspan><tspan dy="-1.6">-NiO/Ni</tspan></text>
<rect x="78.95" y="390.47" width="7.2" height="15.73" fill="#70c090" />
<text x="84.85" y="390.1" font-size="6.4" fill="#50a070" textLength="45" lengthAdjust="spacingAndGlyphs" transform="rotate(-90 84.85 390.1)"><tspan>Pt-Co(OH)</tspan><tspan font-size="4.16" dy="1.6">2</tspan><tspan dy="-1.6">/CC</tspan></text>
<rect x="88.4" y="390.47" width="7.2" height="15.73" fill="#c8a0e8" />
<text x="94.3" y="390.1" font-size="6.4" fill="#b890d8" textLength="34" lengthAdjust="spacingAndGlyphs" transform="rotate(-90 94.3 390.1)"><tspan>Ru-NiCo</tspan><tspan font-size="4.16" dy="1.6">2</tspan><tspan dy="-1.6">S</tspan><tspan font-size="4.16" dy="1.6">4</tspan></text>
<rect x="97.85" y="388.51" width="7.2" height="17.69" fill="#e0b858" />
<text x="103.75" y="387.5" font-size="6.4" fill="#c8a040" textLength="22" lengthAdjust="spacingAndGlyphs" transform="rotate(-90 103.75 387.5)"><tspan>Pt@DG</tspan></text>
<rect x="107.3" y="381.82" width="7.2" height="24.38" fill="#50d0e0" />
<text x="113.2" y="381.5" font-size="6.4" fill="#40c0d0" textLength="38.6" lengthAdjust="spacingAndGlyphs" transform="rotate(-90 113.2 381.5)"><tspan>Pt-Co</tspan><tspan font-size="4.16" dy="1.6">3</tspan><tspan dy="-1.6">O</tspan><tspan font-size="4.16" dy="1.6">4</tspan><tspan dy="-1.6">/CP</tspan></text>
<rect x="116.75" y="377.55" width="7.2" height="28.65" fill="#a08484" />
<text x="122.65" y="377.2" font-size="6.4" fill="#705858" textLength="19" lengthAdjust="spacingAndGlyphs" transform="rotate(-90 122.65 377.2)"><tspan>d-PtSe</tspan><tspan font-size="4.16" dy="1.6">2</tspan></text>
<rect x="126.2" y="359.51" width="7.2" height="46.69" fill="#a8b058" />
<text x="132.1" y="359.2" font-size="6.4" fill="#707830" textLength="43" lengthAdjust="spacingAndGlyphs" transform="rotate(-90 132.1 359.2)"><tspan>Ni@N-HCGHF</tspan></text>
<rect x="135.65" y="309.37" width="7.2" height="96.83" fill="#f2a060" />
<text x="141.55" y="309.8" font-size="6.4" fill="#e09050" textLength="53" lengthAdjust="spacingAndGlyphs" transform="rotate(-90 141.55 309.8)"><tspan>meso-Mo</tspan><tspan font-size="4.16" dy="1.6">2</tspan><tspan dy="-1.6">C/Mo</tspan><tspan font-size="4.16" dy="1.6">2</tspan><tspan dy="-1.6">N</tspan></text>
<rect x="150.3" y="312.37" width="7.2" height="93.83" fill="#90b2dc" />
<text x="156.2" y="310.8" font-size="6.4" fill="#88a6d2" textLength="26.6" lengthAdjust="spacingAndGlyphs" transform="rotate(-90 156.2 310.8)"><tspan>This work</tspan></text>
<rect x="159.73" y="311.59" width="7.2" height="94.61" fill="#90c058" />
<text x="165.63" y="310" font-size="6.4" fill="#86b64e" textLength="27.5" lengthAdjust="spacingAndGlyphs" transform="rotate(-90 165.63 310)"><tspan>CF-FeSO</tspan></text>
<rect x="169.16" y="284.31" width="7.2" height="121.89" fill="#8a8a8a" />
<text x="175.06" y="283.3" font-size="6.4" fill="#4a4a4a" textLength="37.7" lengthAdjust="spacingAndGlyphs" transform="rotate(-90 175.06 283.3)"><tspan>Fe(Se</tspan><tspan font-size="4.16" dy="1.6">0.5</tspan><tspan dy="-1.6">S</tspan><tspan font-size="4.16" dy="1.6">0.5</tspan><tspan dy="-1.6">)</tspan><tspan font-size="4.16" dy="1.6">2</tspan></text>
<rect x="178.59" y="285.05" width="7.2" height="121.15" fill="#e47480" />
<text x="184.49" y="284.2" font-size="6.4" fill="#e87484" textLength="49.8" lengthAdjust="spacingAndGlyphs" transform="rotate(-90 184.49 284.2)"><tspan>Ni</tspan><tspan font-size="4.16" dy="1.6">1</tspan><tspan dy="-1.6">Fe</tspan><tspan font-size="4.16" dy="1.6">1</tspan><tspan dy="-1.6">-O-G SACs</tspan></text>
<rect x="188.02" y="283.82" width="7.2" height="122.38" fill="#5a90e0" />
<text x="193.92" y="282.5" font-size="6.4" fill="#4070c8" textLength="29.2" lengthAdjust="spacingAndGlyphs" transform="rotate(-90 193.92 282.5)"><tspan>Ni</tspan><tspan font-size="4.16" dy="1.6">1.5</tspan><tspan dy="-1.6">Fe</tspan><tspan font-size="4.16" dy="1.6">0.5</tspan><tspan dy="-1.6">P</tspan></text>
<rect x="197.45" y="282.93" width="7.2" height="123.27" fill="#6cc090" />
<text x="203.35" y="281.6" font-size="6.4" fill="#62bc88" textLength="44.6" lengthAdjust="spacingAndGlyphs" transform="rotate(-90 203.35 281.6)"><tspan>DR-Ni</tspan><tspan font-size="4.16" dy="1.6">3</tspan><tspan dy="-1.6">FeN/N-G</tspan></text>
<rect x="206.88" y="279.88" width="7.2" height="126.32" fill="#b8a0e8" />
<text x="212.78" y="280" font-size="6.4" fill="#c0b0ea" textLength="44.7" lengthAdjust="spacingAndGlyphs" transform="rotate(-90 212.78 280)"><tspan>Co</tspan><tspan font-size="4.16" dy="1.6">0.8</tspan><tspan dy="-1.6">Fe</tspan><tspan font-size="4.16" dy="1.6">0.2</tspan><tspan dy="-1.6">-LDH</tspan></text>
<rect x="216.31" y="278.95" width="7.2" height="127.25" fill="#d4b458" />
<text x="222.21" y="278" font-size="6.4" fill="#d4b04c" textLength="41.8" lengthAdjust="spacingAndGlyphs" transform="rotate(-90 222.21 278)"><tspan>NC-FeNiSNF</tspan></text>
<rect x="225.74" y="275.56" width="7.2" height="130.64" fill="#50c8d8" />
<text x="231.64" y="274.8" font-size="6.4" fill="#4cc4d4" textLength="18" lengthAdjust="spacingAndGlyphs" transform="rotate(-90 231.64 274.8)"><tspan>NFF/V</tspan></text>
<rect x="235.17" y="266.12" width="7.2" height="140.08" fill="#a08088" />
<text x="241.07" y="312.5" font-size="6.4" fill="#705860" textLength="76.5" lengthAdjust="spacingAndGlyphs" transform="rotate(-90 241.07 312.5)"><tspan>Fe/Ni-based NSs/CNTs</tspan></text>
<line x1="146.8" y1="233.2" x2="146.8" y2="406.2" stroke="#2a2ad0" stroke-width="1" stroke-dasharray="1 1"/>
<line x1="49.2" y1="233.2" x2="243.5" y2="233.2" stroke="#1e1e1e" stroke-width="1.3" />
<line x1="49.2" y1="406.2" x2="243.5" y2="406.2" stroke="#1e1e1e" stroke-width="1.3" />
<line x1="49.2" y1="233.2" x2="49.2" y2="406.2" stroke="#1e1e1e" stroke-width="1.3" />
<line x1="243.5" y1="233.2" x2="243.5" y2="406.2" stroke="#1e1e1e" stroke-width="1.3" />
<line x1="49.2" y1="406.2" x2="46.2" y2="406.2" stroke="#1e1e1e" stroke-width="1" />
<line x1="49.2" y1="357.05" x2="46.2" y2="357.05" stroke="#1e1e1e" stroke-width="1" />
<line x1="49.2" y1="307.9" x2="46.2" y2="307.9" stroke="#1e1e1e" stroke-width="1" />
<line x1="49.2" y1="258.75" x2="46.2" y2="258.75" stroke="#1e1e1e" stroke-width="1" />
<line x1="49.2" y1="381.62" x2="47.2" y2="381.62" stroke="#1e1e1e" stroke-width="1" />
<line x1="49.2" y1="332.48" x2="47.2" y2="332.48" stroke="#1e1e1e" stroke-width="1" />
<line x1="49.2" y1="283.32" x2="47.2" y2="283.32" stroke="#1e1e1e" stroke-width="1" />
<line x1="49.2" y1="234.17" x2="47.2" y2="234.17" stroke="#1e1e1e" stroke-width="1" />
<text x="46.4" y="410.1" font-size="11.2" fill="#1a1a1a" text-anchor="end" >0</text>
<text x="46.4" y="360.95" font-size="11.2" fill="#1a1a1a" text-anchor="end" >100</text>
<text x="46.4" y="311.8" font-size="11.2" fill="#1a1a1a" text-anchor="end" >200</text>
<text x="46.4" y="262.65" font-size="11.2" fill="#1a1a1a" text-anchor="end" >300</text>
<text x="58" y="255.8" font-size="9.6" fill="#1a1a1a"><tspan font-style="italic">η</tspan> at 10 mA cm<tspan font-size="6.5" dy="-3.5">-2</tspan></text>
<text x="92.3" y="434.3" font-size="11.1" fill="#1a1a1a" text-anchor="middle" >HER Catalysts</text>
<text x="204.5" y="434.3" font-size="11.1" fill="#1a1a1a" text-anchor="middle" >OER Catalysts</text>
<text x="18.5" y="318" font-size="11" fill="#1a1a1a" text-anchor="middle" transform="rotate(-90 18.5 318)"><tspan font-style="italic">η</tspan> (mV)</text>
<text x="10.3" y="246.5" font-size="26.5" fill="#111" text-anchor="start" font-weight="bold" >d</text>
<path d="M292.2 362.6 C308.72 362.72 358.18 363.03 391.3 363.3 C424.42 363.57 474.3 364.05 490.9 364.2" fill="none" stroke="#1f6a24" stroke-width="4.2" stroke-linecap="round" stroke-linejoin="round"/>
<path d="M292.2 362.6 C308.72 362.72 358.18 363.03 391.3 363.3 C424.42 363.57 474.3 364.05 490.9 364.2" fill="none" stroke="#6cc06c" stroke-width="2.1" stroke-dasharray="0.8 1.5" opacity="0.75"/>
<path d="M292.2 358.7 C295.58 358.25 305.45 357.05 312.5 356 C319.55 354.95 328.53 353.6 334.5 352.4 C340.47 351.2 344.25 349.72 348.3 348.8 C352.35 347.88 357.05 347.22 358.8 346.9" fill="none" stroke="#a8c870" stroke-width="4.2" stroke-linecap="round" stroke-linejoin="round"/>
<path d="M292.2 358.7 C295.58 358.25 305.45 357.05 312.5 356 C319.55 354.95 328.53 353.6 334.5 352.4 C340.47 351.2 344.25 349.72 348.3 348.8 C352.35 347.88 357.05 347.22 358.8 346.9" fill="none" stroke="#d8ecb0" stroke-width="2.1" stroke-dasharray="0.8 1.5" opacity="0.75"/>
<path d="M292.2 279.3 C298.5 279.48 317.03 280.07 330 280.4 C342.97 280.73 357.77 281.03 370 281.3 C382.23 281.57 397.83 281.88 403.4 282" fill="none" stroke="#9a6430" stroke-width="3.8" stroke-linecap="round" stroke-linejoin="round"/>
<path d="M292.2 279.3 C298.5 279.48 317.03 280.07 330 280.4 C342.97 280.73 357.77 281.03 370 281.3 C382.23 281.57 397.83 281.88 403.4 282" fill="none" stroke="#f0c890" stroke-width="1.9" stroke-dasharray="0.8 1.5" opacity="0.75"/>
<path d="M292.2 276.2 L490.9 276.2" fill="none" stroke="#e48a58" stroke-width="4" stroke-linecap="round" stroke-linejoin="round"/>
<path d="M292.2 276.2 L490.9 276.2" fill="none" stroke="#fcd0b0" stroke-width="2" stroke-dasharray="0.8 1.5" opacity="0.75"/>
<rect x="366.7" y="296.7" width="43.1" height="42" fill="#d8d8d4" />
<rect x="368" y="306.6" width="18.3" height="30" fill="#dcd5b4" />
<rect x="390.5" y="306.6" width="18.3" height="30" fill="#dcdcd6" />
<rect x="367.9" y="297.9" width="18.2" height="8.8" fill="#1c1c1c" rx="1"/>
<rect x="390.5" y="297.9" width="18.2" height="8.8" fill="#1c1c1c" rx="1"/>
<rect x="368" y="335.5" width="41" height="3" fill="#b8c4a8" />
<rect x="328" y="284.8" width="159.8" height="58.3" fill="none" stroke="#2d8bbd" stroke-width="2.8" stroke-dasharray="4.3 5.3" stroke-dashoffset="-2"/>
<text x="388.5" y="294.2" font-size="8.4" fill="#3a8fc6" text-anchor="middle" font-weight="bold" font-style="italic" >KI addition</text>
<text x="350.5" y="323" font-size="8.3" fill="#3a8fc6" text-anchor="middle" font-weight="bold" font-style="italic" >NaClO</text>
<text x="446.7" y="319.8" font-size="8.3" fill="#3a8fc6" text-anchor="middle" font-weight="bold" font-style="italic" >Alkaline seawater</text>
<text x="446.7" y="330.3" font-size="8.3" fill="#3a8fc6" text-anchor="middle" font-weight="bold" font-style="italic" >after 30h I-t</text>
<line x1="291.2" y1="232.5" x2="491.4" y2="232.5" stroke="#1e1e1e" stroke-width="1.3" />
<line x1="291.2" y1="407.5" x2="491.4" y2="407.5" stroke="#1e1e1e" stroke-width="1.3" />
<line x1="291.2" y1="232.5" x2="291.2" y2="407.5" stroke="#1e1e1e" stroke-width="1.3" />
<line x1="491.4" y1="232.5" x2="491.4" y2="407.5" stroke="#1e1e1e" stroke-width="1.3" />
<line x1="291.2" y1="232.5" x2="288.2" y2="232.5" stroke="#1e1e1e" stroke-width="1" />
<line x1="291.2" y1="276.25" x2="288.2" y2="276.25" stroke="#1e1e1e" stroke-width="1" />
<line x1="291.2" y1="320" x2="288.2" y2="320" stroke="#1e1e1e" stroke-width="1" />
<line x1="291.2" y1="363.75" x2="288.2" y2="363.75" stroke="#1e1e1e" stroke-width="1" />
<line x1="291.2" y1="407.5" x2="288.2" y2="407.5" stroke="#1e1e1e" stroke-width="1" />
<line x1="291.2" y1="254.38" x2="289.2" y2="254.38" stroke="#1e1e1e" stroke-width="1" />
<line x1="291.2" y1="298.12" x2="289.2" y2="298.12" stroke="#1e1e1e" stroke-width="1" />
<line x1="291.2" y1="341.88" x2="289.2" y2="341.88" stroke="#1e1e1e" stroke-width="1" />
<line x1="291.2" y1="385.62" x2="289.2" y2="385.62" stroke="#1e1e1e" stroke-width="1" />
<line x1="291.2" y1="407.5" x2="291.2" y2="410" stroke="#1e1e1e" stroke-width="1" />
<line x1="324.57" y1="407.5" x2="324.57" y2="410" stroke="#1e1e1e" stroke-width="1" />
<line x1="357.93" y1="407.5" x2="357.93" y2="410" stroke="#1e1e1e" stroke-width="1" />
<line x1="391.3" y1="407.5" x2="391.3" y2="410" stroke="#1e1e1e" stroke-width="1" />
<line x1="424.67" y1="407.5" x2="424.67" y2="410" stroke="#1e1e1e" stroke-width="1" />
<line x1="458.03" y1="407.5" x2="458.03" y2="410" stroke="#1e1e1e" stroke-width="1" />
<line x1="491.4" y1="407.5" x2="491.4" y2="410" stroke="#1e1e1e" stroke-width="1" />
<line x1="307.88" y1="407.5" x2="307.88" y2="409.3" stroke="#1e1e1e" stroke-width="1" />
<line x1="341.25" y1="407.5" x2="341.25" y2="409.3" stroke="#1e1e1e" stroke-width="1" />
<line x1="374.62" y1="407.5" x2="374.62" y2="409.3" stroke="#1e1e1e" stroke-width="1" />
<line x1="407.98" y1="407.5" x2="407.98" y2="409.3" stroke="#1e1e1e" stroke-width="1" />
<line x1="441.35" y1="407.5" x2="441.35" y2="409.3" stroke="#1e1e1e" stroke-width="1" />
<line x1="474.72" y1="407.5" x2="474.72" y2="409.3" stroke="#1e1e1e" stroke-width="1" />
<text x="286.2" y="236.2" font-size="10.9" fill="#1a1a1a" text-anchor="end" >200</text>
<text x="286.2" y="279.95" font-size="10.9" fill="#1a1a1a" text-anchor="end" >100</text>
<text x="286.2" y="323.7" font-size="10.9" fill="#1a1a1a" text-anchor="end" >0</text>
<text x="286.2" y="367.45" font-size="10.9" fill="#1a1a1a" text-anchor="end" >-100</text>
<text x="286.2" y="411.2" font-size="10.9" fill="#1a1a1a" text-anchor="end" >-200</text>
<text x="291.2" y="422.5" font-size="10.8" fill="#1a1a1a" text-anchor="middle" >0</text>
<text x="324.57" y="422.5" font-size="10.8" fill="#1a1a1a" text-anchor="middle" >5</text>
<text x="357.93" y="422.5" font-size="10.8" fill="#1a1a1a" text-anchor="middle" >10</text>
<text x="391.3" y="422.5" font-size="10.8" fill="#1a1a1a" text-anchor="middle" >15</text>
<text x="424.67" y="422.5" font-size="10.8" fill="#1a1a1a" text-anchor="middle" >20</text>
<text x="458.03" y="422.5" font-size="10.8" fill="#1a1a1a" text-anchor="middle" >25</text>
<text x="491.4" y="422.5" font-size="10.8" fill="#1a1a1a" text-anchor="middle" >30</text>
<text x="391.6" y="440" font-size="11.8" fill="#1a1a1a" text-anchor="middle" >Time (h)</text>
<text x="262.3" y="322.2" font-size="11.8" fill="#1a1a1a" text-anchor="middle" transform="rotate(-90 262.3 322.2)"><tspan font-style="italic">j</tspan> (mA cm<tspan font-size="8.5" dy="-4.5">-2</tspan><tspan dy="4.5">)</tspan></text>
<text x="252.2" y="244.5" font-size="25" fill="#111" text-anchor="start" font-weight="bold" >e</text>
<circle cx="303.7" cy="244.3" r="2.6" fill="url(#gE1)"/>
<text x="316" y="247.6" font-size="9" fill="#e0925e" text-anchor="start"><tspan>Fe</tspan><tspan font-size="5.85" dy="2.25">1</tspan><tspan dy="-2.25">/Mn_NiO</tspan></text>
<circle cx="303.7" cy="257.2" r="2.6" fill="url(#gE2)"/>
<text x="316" y="260.5" font-size="9" fill="#8a5a2e" text-anchor="start"><tspan>Fe</tspan><tspan font-size="5.85" dy="2.25">1</tspan><tspan dy="-2.25">/NiO</tspan></text>
<circle cx="381.3" cy="244.3" r="2.6" fill="url(#gE3)"/>
<text x="392.3" y="247.6" font-size="9" fill="#1e4a24" text-anchor="start"><tspan>Pt</tspan><tspan font-size="5.85" dy="2.25">1</tspan><tspan dy="-2.25">/Mn_NiO</tspan></text>
<circle cx="381.3" cy="257.2" r="2.6" fill="url(#gE4)"/>
<text x="392.3" y="260.5" font-size="9" fill="#c0d49a" text-anchor="start"><tspan>Pt</tspan><tspan font-size="5.85" dy="2.25">1</tspan><tspan dy="-2.25">/NiO</tspan></text>
<line x1="537.4" y1="319.95" x2="741.2" y2="319.95" stroke="#b8b8b8" stroke-width="0.9" />
<path d="M566.78 407.13 C566.95 405.87 567.43 402.35 567.8 399.59 C568.18 396.83 568.56 393.57 569.05 390.57 C569.53 387.57 570.17 384.9 570.73 381.6 C571.29 378.31 571.87 374.39 572.39 370.79 C572.9 367.2 573.48 362.56 573.83 360.03 C574.17 357.5 574.15 358.14 574.46 355.6 C574.77 353.06 575.29 348.09 575.7 344.79 C576.12 341.49 576.53 338.37 576.95 335.83 C577.36 333.28 577.71 331.65 578.19 329.55 C578.67 327.45 579.29 324.64 579.85 323.22 C580.4 321.8 580.76 321.52 581.53 321 C582.3 320.49 583.97 320.26 584.46 320.11" fill="none" stroke="#d2e2b8" stroke-width="1.5" stroke-linejoin="round" stroke-linecap="round" />
<path d="M557.5 404.5 C557.92 401.42 559.05 391.92 560 386 C560.95 380.08 562.08 374.2 563.2 369 C564.32 363.8 565.47 359.22 566.7 354.8 C567.93 350.38 569.12 346.23 570.6 342.5 C572.08 338.77 574.1 335.22 575.6 332.4 C577.1 329.58 578.45 327.42 579.6 325.6 C580.75 323.78 581.72 322.43 582.5 321.5 C583.28 320.57 584 320.25 584.3 320" fill="none" stroke="#8cc060" stroke-width="1.6" stroke-linejoin="round" stroke-linecap="round" />
<path d="M564.07 404.97 C564.28 403.92 564.93 400.79 565.32 398.69 C565.7 396.59 566.16 393.87 566.36 392.36 C566.57 390.86 566.39 391.62 566.56 389.67 C566.73 387.73 566.97 383.85 567.39 380.71 C567.8 377.56 568.46 374.24 569.05 370.79 C569.64 367.35 570.51 362.56 570.92 360.03 C571.34 357.5 571.11 358.14 571.56 355.6 C572.01 353.06 573.08 347.34 573.63 344.79 C574.18 342.24 574.25 342.25 574.87 340.31 C575.5 338.37 576.53 335.39 577.36 333.14 C578.19 330.88 579.01 328.61 579.85 326.81 C580.68 325 581.59 323.42 582.36 322.32 C583.13 321.22 584.11 320.57 584.46 320.21" fill="none" stroke="#1e5a2a" stroke-width="1.8" stroke-linejoin="round" stroke-linecap="round" />
<path d="M675.5 319.2 C677.92 319.2 686.25 319.3 690 319.2 C693.75 319.1 695.82 318.88 698 318.6 C700.18 318.32 701.6 318.18 703.1 317.5 C704.6 316.82 705.82 315.67 707 314.5 C708.18 313.33 708.75 313.65 710.2 310.5 C711.65 307.35 713.88 301.23 715.7 295.6 C717.52 289.97 719.4 283.23 721.1 276.7 C722.8 270.17 724.45 262.15 725.9 256.4 C727.35 250.65 728.77 245.73 729.8 242.2 C730.83 238.67 731.72 236.37 732.1 235.2" fill="none" stroke="#6e4a5a" stroke-width="1.6" stroke-linejoin="round" stroke-linecap="round" />
<path d="M675.5 319.2 C677.92 319.2 686.42 319.27 690 319.2 C693.58 319.13 695.2 319.07 697 318.8 C698.8 318.53 699.38 318.6 700.8 317.6 C702.22 316.6 704.07 316.73 705.5 312.8 C706.93 308.87 708.23 300.8 709.4 294 C710.57 287.2 711.58 279.33 712.5 272 C713.42 264.67 714.12 256.13 714.9 250 C715.68 243.87 716.82 237.67 717.2 235.2" fill="none" stroke="#e0aa30" stroke-width="1.6" stroke-linejoin="round" stroke-linecap="round" />
<path d="M675.5 319.2 C677.58 319.2 684.92 319.3 688 319.2 C691.08 319.1 692.33 318.97 694 318.6 C695.67 318.23 696.62 318.13 698 317 C699.38 315.87 700.92 315.9 702.3 311.8 C703.68 307.7 705.25 300.33 706.3 292.4 C707.35 284.47 707.95 272.82 708.6 264.2 C709.25 255.58 709.8 246.07 710.2 240.7 C710.6 235.33 710.87 233.45 711 232" fill="none" stroke="#e4804e" stroke-width="1.6" stroke-linejoin="round" stroke-linecap="round" />
<line x1="584.43" y1="303.6" x2="584.43" y2="338" stroke="#111" stroke-width="1.3" stroke-dasharray="2.2 1.5"/>
<line x1="688.29" y1="303.6" x2="688.29" y2="340.6" stroke="#111" stroke-width="1.3" stroke-dasharray="2.2 1.5"/>
<line x1="589.43" y1="314.6" x2="683.29" y2="314.6" stroke="#a07a52" stroke-width="1.6" />
<path d="M584.93 314.6 L593.93 310.8 L590.93 314.6 L593.93 318.4 Z" fill="#a07a52"/>
<path d="M687.79 314.6 L678.79 310.8 L681.79 314.6 L678.79 318.4 Z" fill="#a07a52"/>
<text x="585" y="302" font-size="7.4" fill="#c04890" text-anchor="start" font-style="italic" font-family='"Liberation Serif", "Times New Roman", serif'><tspan>Pt</tspan><tspan font-size="4.81" dy="1.85">1</tspan><tspan dy="-1.85">/Mn_NiO||Fe</tspan><tspan font-size="4.81" dy="1.85">1</tspan><tspan dy="-1.85">/Mn_NiO,1.400 V</tspan></text>
<text x="585" y="331.5" font-size="7.4" fill="#4a5ab8" text-anchor="start" font-style="italic" font-family='"Liberation Serif", "Times New Roman", serif'><tspan>Pt</tspan><tspan font-size="4.81" dy="1.85">1</tspan><tspan dy="-1.85">/NiO||Fe</tspan><tspan font-size="4.81" dy="1.85">1</tspan><tspan dy="-1.85">/NiO,1.430 V</tspan></text>
<text x="585" y="346" font-size="7.4" fill="#e8c060" text-anchor="start" font-style="italic" font-family='"Liberation Serif", "Times New Roman", serif'><tspan>Pt/C||IrO</tspan><tspan font-size="4.81" dy="1.85">2</tspan><tspan dy="-1.85">,1.501 V</tspan></text>
<line x1="537.4" y1="232.4" x2="741.2" y2="232.4" stroke="#1e1e1e" stroke-width="1.3" />
<line x1="537.4" y1="407.5" x2="741.2" y2="407.5" stroke="#1e1e1e" stroke-width="1.3" />
<line x1="537.4" y1="232.4" x2="537.4" y2="407.5" stroke="#1e1e1e" stroke-width="1.3" />
<line x1="741.2" y1="232.4" x2="741.2" y2="407.5" stroke="#1e1e1e" stroke-width="1.3" />
<line x1="537.4" y1="232.4" x2="534.4" y2="232.4" stroke="#1e1e1e" stroke-width="1" />
<line x1="537.4" y1="276.18" x2="534.4" y2="276.18" stroke="#1e1e1e" stroke-width="1" />
<line x1="537.4" y1="319.95" x2="534.4" y2="319.95" stroke="#1e1e1e" stroke-width="1" />
<line x1="537.4" y1="363.72" x2="534.4" y2="363.72" stroke="#1e1e1e" stroke-width="1" />
<line x1="537.4" y1="407.5" x2="534.4" y2="407.5" stroke="#1e1e1e" stroke-width="1" />
<line x1="537.4" y1="254.29" x2="535.4" y2="254.29" stroke="#1e1e1e" stroke-width="1" />
<line x1="537.4" y1="298.06" x2="535.4" y2="298.06" stroke="#1e1e1e" stroke-width="1" />
<line x1="537.4" y1="341.84" x2="535.4" y2="341.84" stroke="#1e1e1e" stroke-width="1" />
<line x1="537.4" y1="385.61" x2="535.4" y2="385.61" stroke="#1e1e1e" stroke-width="1" />
<line x1="545.24" y1="407.5" x2="545.24" y2="410" stroke="#1e1e1e" stroke-width="1" />
<line x1="584.43" y1="407.5" x2="584.43" y2="410" stroke="#1e1e1e" stroke-width="1" />
<line x1="623.62" y1="407.5" x2="623.62" y2="410" stroke="#1e1e1e" stroke-width="1" />
<line x1="662.82" y1="407.5" x2="662.82" y2="410" stroke="#1e1e1e" stroke-width="1" />
<line x1="702.01" y1="407.5" x2="702.01" y2="410" stroke="#1e1e1e" stroke-width="1" />
<line x1="741.2" y1="407.5" x2="741.2" y2="410" stroke="#1e1e1e" stroke-width="1" />
<line x1="564.83" y1="407.5" x2="564.83" y2="409.3" stroke="#1e1e1e" stroke-width="1" />
<line x1="604.03" y1="407.5" x2="604.03" y2="409.3" stroke="#1e1e1e" stroke-width="1" />
<line x1="643.22" y1="407.5" x2="643.22" y2="409.3" stroke="#1e1e1e" stroke-width="1" />
<line x1="682.41" y1="407.5" x2="682.41" y2="409.3" stroke="#1e1e1e" stroke-width="1" />
<line x1="721.6" y1="407.5" x2="721.6" y2="409.3" stroke="#1e1e1e" stroke-width="1" />
<text x="531.8" y="236.2" font-size="10.9" fill="#1a1a1a" text-anchor="end" >400</text>
<text x="531.8" y="279.98" font-size="10.9" fill="#1a1a1a" text-anchor="end" >200</text>
<text x="531.8" y="323.75" font-size="10.9" fill="#1a1a1a" text-anchor="end" >0</text>
<text x="531.8" y="367.52" font-size="10.9" fill="#1a1a1a" text-anchor="end" >-200</text>
<text x="531.8" y="411.3" font-size="10.9" fill="#1a1a1a" text-anchor="end" >-400</text>
<text x="545.24" y="422" font-size="10.8" fill="#1a1a1a" text-anchor="middle" >-0.5</text>
<text x="584.43" y="422" font-size="10.8" fill="#1a1a1a" text-anchor="middle" >0.0</text>
<text x="623.62" y="422" font-size="10.8" fill="#1a1a1a" text-anchor="middle" >0.5</text>
<text x="662.82" y="422" font-size="10.8" fill="#1a1a1a" text-anchor="middle" >1.0</text>
<text x="702.01" y="422" font-size="10.8" fill="#1a1a1a" text-anchor="middle" >1.5</text>
<text x="741.2" y="422" font-size="10.8" fill="#1a1a1a" text-anchor="middle" >2.0</text>
<text x="638" y="436.6" font-size="11.35" fill="#1a1a1a" text-anchor="middle" >Potential (V vs. RHE)</text>
<text x="509.3" y="320.7" font-size="12" fill="#1a1a1a" text-anchor="middle" transform="rotate(-90 509.3 320.7)"><tspan font-style="italic">j</tspan> (mA cm<tspan font-size="8.64" dy="-4.5">-2</tspan><tspan dy="4.5">)</tspan></text>
<text x="501" y="246.6" font-size="26" fill="#111" text-anchor="start" font-weight="bold" >f</text>
<line x1="542.3" y1="239.5" x2="563.4" y2="239.5" stroke="#1e5a2a" stroke-width="1.8" />
<text x="564.5" y="242.8" font-size="9.2" fill="#1e5a2a" text-anchor="start"><tspan>Pt</tspan><tspan font-size="5.98" dy="2.3">1</tspan><tspan dy="-2.3">/Mn_NiO</tspan></text>
<line x1="542.3" y1="252.5" x2="563.4" y2="252.5" stroke="#8cc060" stroke-width="1.8" />
<text x="564.5" y="255.8" font-size="9.2" fill="#90c068" text-anchor="start"><tspan>Pt</tspan><tspan font-size="5.98" dy="2.3">1</tspan><tspan dy="-2.3">/NiO</tspan></text>
<line x1="542.3" y1="265.5" x2="563.4" y2="265.5" stroke="#d2e2b8" stroke-width="1.8" />
<text x="564.5" y="268.8" font-size="9.2" fill="#d8e6c4" text-anchor="start"><tspan>20wt% Pt/C</tspan></text>
<line x1="617" y1="239.5" x2="638" y2="239.5" stroke="#e4804e" stroke-width="1.8" />
<text x="639.5" y="242.8" font-size="9.2" fill="#e89068" text-anchor="start"><tspan>Fe</tspan><tspan font-size="5.98" dy="2.3">1</tspan><tspan dy="-2.3">/Mn_NiO</tspan></text>
<line x1="617" y1="252.5" x2="638" y2="252.5" stroke="#e0aa30" stroke-width="1.8" />
<text x="639.5" y="255.8" font-size="9.2" fill="#d8a838" text-anchor="start"><tspan>Fe</tspan><tspan font-size="5.98" dy="2.3">1</tspan><tspan dy="-2.3">/NiO</tspan></text>
<line x1="617" y1="265.5" x2="638" y2="265.5" stroke="#6e4a5a" stroke-width="1.8" />
<text x="639.5" y="268.8" font-size="9.2" fill="#5a3a4a" text-anchor="start"><tspan>IrO</tspan><tspan font-size="5.98" dy="2.3">2</tspan></text>
<path d="M51.5 632.6 C57.92 632.5 79.88 632.2 90 632 C100.12 631.8 104.92 632.13 112.2 631.4 C119.48 630.67 126.98 629.13 133.7 627.6 C140.42 626.07 146.23 624.22 152.5 622.2 C158.77 620.18 165.93 617.42 171.3 615.5 C176.67 613.58 181.08 611.95 184.7 610.7 C188.32 609.45 190.32 609.07 193 608 C195.68 606.93 197.7 606.18 200.8 604.3 C203.9 602.42 208.02 599.67 211.6 596.7 C215.18 593.73 218.72 590.03 222.3 586.5 C225.88 582.97 229.57 579.25 233.1 575.5 C236.63 571.75 241.77 565.92 243.5 564" fill="none" stroke="#e0b850" stroke-width="1.6" stroke-linejoin="round" stroke-linecap="round" />
<path d="M51.5 632 C55.42 631.87 67.13 631.48 75 631.2 C82.87 630.92 91.17 631.12 98.7 630.3 C106.23 629.48 114.37 627.87 120.2 626.3 C126.03 624.73 129.22 623.15 133.7 620.9 C138.18 618.65 142.63 615.48 147.1 612.8 C151.57 610.12 156.02 607.48 160.5 604.8 C164.98 602.12 169.75 599.42 174 596.7 C178.25 593.98 183.17 590.37 186 588.5 C188.83 586.63 189.65 586.6 191 585.5 C192.35 584.4 191.57 583.83 194.1 581.9 C196.63 579.97 201.95 576.8 206.2 573.9 C210.45 571 215.12 567.62 219.6 564.5 C224.08 561.38 230.23 557.28 233.1 555.2 C235.97 553.12 235.88 553.23 236.8 552 C237.72 550.77 237.48 549.3 238.6 547.8 C239.72 546.3 242.68 543.8 243.5 543" fill="none" stroke="#2a5a9a" stroke-width="1.6" stroke-linejoin="round" stroke-linecap="round" />
<path d="M51.5 631.8 C54.9 631.6 65.82 631.17 71.9 630.6 C77.98 630.03 82.63 629.48 88 628.4 C93.37 627.32 99.18 625.8 104.1 624.1 C109.02 622.4 113.47 620.52 117.5 618.2 C121.53 615.88 125.17 612.88 128.3 610.2 C131.43 607.52 133.83 605.02 136.3 602.1 C138.77 599.18 141.3 595.47 143.1 592.7 C144.9 589.93 145.95 587.78 147.1 585.5 C148.25 583.22 149.1 581.33 150 579 C150.9 576.67 151.42 575.27 152.5 571.5 C153.58 567.73 155.38 561.15 156.5 556.4 C157.62 551.65 158.53 546.23 159.2 543 C159.87 539.77 159.83 540.58 160.5 537 C161.17 533.42 162.08 527.67 163.2 521.5 C164.32 515.33 165.9 510.08 167.2 500 C168.5 489.92 170.37 467.5 171 461" fill="none" stroke="#c22e72" stroke-width="1.6" stroke-linejoin="round" stroke-linecap="round" />
<line x1="64.3" y1="628.4" x2="175.3" y2="628.4" stroke="#8a2a8a" stroke-width="1" stroke-dasharray="1.2 1.2"/>
<line x1="130.4" y1="590" x2="161.9" y2="590" stroke="#8a2a8a" stroke-width="1" stroke-dasharray="1.2 1.2"/>
<line x1="143.1" y1="572.5" x2="145.8" y2="583.5" stroke="#7a1a7a" stroke-width="1" />
<path d="M146.8 588 L143.4 581.9 L148.1 581 Z" fill="#7a1a7a"/>
<line x1="84.8" y1="610.2" x2="87.2" y2="621.8" stroke="#7a1a7a" stroke-width="1" />
<path d="M88.1 626.3 L84.7 620.2 L89.4 619.3 Z" fill="#7a1a7a"/>
<text x="82.6" y="562.6" font-size="8.3" fill="#b02a80" text-anchor="start" font-style="italic" font-family='"Liberation Serif", "Times New Roman", serif'><tspan>100 mA cm</tspan><tspan font-size="5.4" dy="-3.32">-2</tspan><tspan dy="3.32">, 1.75 V</tspan></text>
<text x="55.2" y="606.4" font-size="8.3" fill="#b02a80" text-anchor="start" font-style="italic" font-family='"Liberation Serif", "Times New Roman", serif'><tspan>10 mA cm</tspan><tspan font-size="5.4" dy="-3.32">-2</tspan><tspan dy="3.32">, 1.44 V</tspan></text>
<text x="60.7" y="476.9" font-size="7.9" fill="#d0408a" text-anchor="start"><tspan>Pt</tspan><tspan font-size="5.14" dy="1.98">1</tspan><tspan dy="-1.98">/ Mn_NiO  ||  Fe</tspan><tspan font-size="5.14" dy="1.98">1</tspan><tspan dy="-1.98">/Mn_NiO</tspan></text>
<text x="60.7" y="488.4" font-size="7.9" fill="#3a55a8" text-anchor="start"><tspan>Pt</tspan><tspan font-size="5.14" dy="1.98">1</tspan><tspan dy="-1.98">/ NiO  ||  Fe</tspan><tspan font-size="5.14" dy="1.98">1</tspan><tspan dy="-1.98">/NiO</tspan></text>
<text x="60.7" y="500.2" font-size="7.9" fill="#e4c060" text-anchor="start"><tspan>Pt / C  ||  IrO</tspan><tspan font-size="5.14" dy="1.98">2</tspan></text>
<line x1="51" y1="460.8" x2="243.8" y2="460.8" stroke="#1e1e1e" stroke-width="1.3" />
<line x1="51" y1="633" x2="243.8" y2="633" stroke="#1e1e1e" stroke-width="1.3" />
<line x1="51" y1="460.8" x2="51" y2="633" stroke="#1e1e1e" stroke-width="1.3" />
<line x1="243.8" y1="460.8" x2="243.8" y2="633" stroke="#1e1e1e" stroke-width="1.3" />
<line x1="51" y1="633" x2="48" y2="633" stroke="#1e1e1e" stroke-width="1" />
<line x1="51" y1="589.95" x2="48" y2="589.95" stroke="#1e1e1e" stroke-width="1" />
<line x1="51" y1="546.9" x2="48" y2="546.9" stroke="#1e1e1e" stroke-width="1" />
<line x1="51" y1="503.85" x2="48" y2="503.85" stroke="#1e1e1e" stroke-width="1" />
<line x1="51" y1="460.8" x2="48" y2="460.8" stroke="#1e1e1e" stroke-width="1" />
<line x1="51" y1="611.48" x2="49" y2="611.48" stroke="#1e1e1e" stroke-width="1" />
<line x1="51" y1="568.42" x2="49" y2="568.42" stroke="#1e1e1e" stroke-width="1" />
<line x1="51" y1="525.38" x2="49" y2="525.38" stroke="#1e1e1e" stroke-width="1" />
<line x1="51" y1="482.33" x2="49" y2="482.33" stroke="#1e1e1e" stroke-width="1" />
<line x1="51" y1="633" x2="51" y2="635.5" stroke="#1e1e1e" stroke-width="1" />
<line x1="86.05" y1="633" x2="86.05" y2="635.5" stroke="#1e1e1e" stroke-width="1" />
<line x1="121.11" y1="633" x2="121.11" y2="635.5" stroke="#1e1e1e" stroke-width="1" />
<line x1="156.16" y1="633" x2="156.16" y2="635.5" stroke="#1e1e1e" stroke-width="1" />
<line x1="191.22" y1="633" x2="191.22" y2="635.5" stroke="#1e1e1e" stroke-width="1" />
<line x1="226.27" y1="633" x2="226.27" y2="635.5" stroke="#1e1e1e" stroke-width="1" />
<line x1="68.53" y1="633" x2="68.53" y2="634.8" stroke="#1e1e1e" stroke-width="1" />
<line x1="103.58" y1="633" x2="103.58" y2="634.8" stroke="#1e1e1e" stroke-width="1" />
<line x1="138.64" y1="633" x2="138.64" y2="634.8" stroke="#1e1e1e" stroke-width="1" />
<line x1="173.69" y1="633" x2="173.69" y2="634.8" stroke="#1e1e1e" stroke-width="1" />
<line x1="208.75" y1="633" x2="208.75" y2="634.8" stroke="#1e1e1e" stroke-width="1" />
<line x1="243.8" y1="633" x2="243.8" y2="634.8" stroke="#1e1e1e" stroke-width="1" />
<text x="45.2" y="636.9" font-size="11.2" fill="#1a1a1a" text-anchor="end" >0</text>
<text x="45.2" y="593.85" font-size="11.2" fill="#1a1a1a" text-anchor="end" >100</text>
<text x="45.2" y="550.8" font-size="11.2" fill="#1a1a1a" text-anchor="end" >200</text>
<text x="45.2" y="507.75" font-size="11.2" fill="#1a1a1a" text-anchor="end" >300</text>
<text x="45.2" y="464.7" font-size="11.2" fill="#1a1a1a" text-anchor="end" >400</text>
<text x="51" y="650" font-size="10.8" fill="#1a1a1a" text-anchor="middle" >1.2</text>
<text x="86.05" y="650" font-size="10.8" fill="#1a1a1a" text-anchor="middle" >1.4</text>
<text x="121.11" y="650" font-size="10.8" fill="#1a1a1a" text-anchor="middle" >1.6</text>
<text x="156.16" y="650" font-size="10.8" fill="#1a1a1a" text-anchor="middle" >1.8</text>
<text x="191.22" y="650" font-size="10.8" fill="#1a1a1a" text-anchor="middle" >2.0</text>
<text x="226.27" y="650" font-size="10.8" fill="#1a1a1a" text-anchor="middle" >2.2</text>
<text x="147" y="662" font-size="11.2" fill="#1a1a1a" text-anchor="middle" >Voltage (V)</text>
<text x="17.2" y="550.7" font-size="12" fill="#1a1a1a" text-anchor="middle" transform="rotate(-90 17.2 550.7)"><tspan font-style="italic">j</tspan> (mA cm<tspan font-size="8.64" dy="-4.5">-2</tspan><tspan dy="4.5">)</tspan></text>
<text x="7.5" y="467" font-size="27.5" font-weight="bold" fill="#111" font-family='"Liberation Serif", serif'>g</text>
<rect x="292.2" y="612.24" width="10" height="23.26" fill="#1a5a4c" />
<rect x="304.65" y="604.22" width="10" height="31.28" fill="#2e6e62" />
<rect x="317.1" y="604.22" width="10" height="31.28" fill="#4a8c80" />
<rect x="329.55" y="588.18" width="10" height="47.32" fill="#7cc2b4" />
<rect x="342" y="568.13" width="10" height="67.37" fill="#d6efea" />
<rect x="354.45" y="565.73" width="10" height="69.77" fill="#f4ead6" />
<rect x="366.9" y="564.92" width="10" height="70.58" fill="#dcc080" />
<rect x="379.35" y="524.02" width="10" height="111.48" fill="#c08a38" />
<rect x="391.8" y="516" width="10" height="119.5" fill="#8e5a1e" />
<rect x="404.25" y="507.98" width="10" height="127.52" fill="#6a3a10" />
<rect x="416.7" y="492.74" width="10" height="142.76" fill="#9c84c4" />
<rect x="429.15" y="492.74" width="10" height="142.76" fill="#a8c2f0" />
<rect x="441.6" y="492.74" width="10" height="142.76" fill="#1c5c4a" />
<rect x="454.05" y="483.92" width="10" height="151.58" fill="#3e8a78" />
<rect x="466.5" y="483.92" width="10" height="151.58" fill="#5aae9e" />
<rect x="478.95" y="469.49" width="10" height="166.01" fill="#a6dccf" />
<text x="300.51" y="610.74" font-size="9.2" fill="#111111" textLength="38" lengthAdjust="spacingAndGlyphs" transform="rotate(-90 300.51 610.74)"><tspan>This work</tspan></text>
<text x="312.96" y="633.5" font-size="9.2" fill="#1e4e44" textLength="144" lengthAdjust="spacingAndGlyphs" transform="rotate(-90 312.96 633.5)"><tspan>Ru</tspan><tspan font-size="5.98" dy="2.3">1</tspan><tspan dy="-2.3">/D-NiFe LDH||Ru</tspan><tspan font-size="5.98" dy="2.3">1</tspan><tspan dy="-2.3">/D-NiFe LDH</tspan></text>
<text x="325.41" y="633.5" font-size="9.2" fill="#2e6a60" textLength="115" lengthAdjust="spacingAndGlyphs" transform="rotate(-90 325.41 633.5)"><tspan>NiO/RuO</tspan><tspan font-size="5.98" dy="2.3">2</tspan><tspan dy="-2.3">/NF||NiO/RuO</tspan><tspan font-size="5.98" dy="2.3">2</tspan><tspan dy="-2.3">/NF</tspan></text>
<text x="337.86" y="633.5" font-size="9.2" fill="#5aa898" textLength="77" lengthAdjust="spacingAndGlyphs" transform="rotate(-90 337.86 633.5)"><tspan>Ni-Mo-P||Ni-Mo-P</tspan></text>
<text x="350.31" y="633.5" font-size="9.2" fill="#a8d8d0" textLength="105" lengthAdjust="spacingAndGlyphs" transform="rotate(-90 350.31 633.5)"><tspan>Ni@C@MoO</tspan><tspan font-size="5.98" dy="2.3">2</tspan><tspan dy="-2.3">/NF||Ni-Mo-P</tspan></text>
<text x="362.76" y="633.5" font-size="9.2" fill="#e8dcc0" textLength="75" lengthAdjust="spacingAndGlyphs" transform="rotate(-90 362.76 633.5)"><tspan>Ru/Ir-NC||Ru/Ir-NC</tspan></text>
<text x="375.21" y="633.5" font-size="9.2" fill="#c8a860" textLength="171" lengthAdjust="spacingAndGlyphs" transform="rotate(-90 375.21 633.5)"><tspan>Co@NCN/CoP@Co@NCN||Co</tspan><tspan font-size="5.98" dy="2.3">2</tspan><tspan dy="-2.3">P@CoP@Co@NCN</tspan></text>
<text x="387.66" y="633.5" font-size="9.2" fill="#9a6a20" textLength="169" lengthAdjust="spacingAndGlyphs" transform="rotate(-90 387.66 633.5)"><tspan>NiSe</tspan><tspan font-size="5.98" dy="2.3">2</tspan><tspan dy="-2.3">/FeOOH/NF||NiSe</tspan><tspan font-size="5.98" dy="2.3">2</tspan><tspan dy="-2.3">@FeOOH/NF</tspan></text>
<text x="400.11" y="633.5" font-size="9.2" fill="#5a3a12" textLength="159" lengthAdjust="spacingAndGlyphs" transform="rotate(-90 400.11 633.5)"><tspan>CoS</tspan><tspan font-size="5.98" dy="2.3">2</tspan><tspan dy="-2.3">/NiS@NiFe-LDH||NiFe-LDH</tspan></text>
<text x="411.41" y="506.48" font-size="6" fill="#c09060" transform="rotate(-90 411.41 506.48)"><tspan>Ir</tspan></text>
<text x="425.01" y="633.5" font-size="9.2" fill="#8a48d8" textLength="70" lengthAdjust="spacingAndGlyphs" transform="rotate(-90 425.01 633.5)"><tspan>Pt/C||CoO@Cu</tspan><tspan font-size="5.98" dy="2.3">2</tspan><tspan dy="-2.3">S</tspan></text>
<text x="437.46" y="633.5" font-size="9.2" fill="#6e98e8" textLength="108.5" lengthAdjust="spacingAndGlyphs" transform="rotate(-90 437.46 633.5)"><tspan>Pt/C||NiFeOOH/NCN</tspan></text>
<text x="449.91" y="633.5" font-size="9.2" fill="#3a8a70" textLength="132" lengthAdjust="spacingAndGlyphs" transform="rotate(-90 449.91 633.5)"><tspan>a-NiO NPs/rGO||a-NiO NPs/rGO</tspan></text>
<text x="462.36" y="633.5" font-size="9.2" fill="#5aa890" textLength="57.5" lengthAdjust="spacingAndGlyphs" transform="rotate(-90 462.36 633.5)"><tspan>V-CoP||V-CoP</tspan></text>
<text x="474.81" y="633.5" font-size="9.2" fill="#3a8a80" textLength="138" lengthAdjust="spacingAndGlyphs" transform="rotate(-90 474.81 633.5)"><tspan>W-Ni-CoP/NF||W-Mo-NiCoP/NF</tspan></text>
<text x="487.26" y="633.5" font-size="9.2" fill="#78c4b2" textLength="91" lengthAdjust="spacingAndGlyphs" transform="rotate(-90 487.26 633.5)"><tspan>NiP</tspan><tspan font-size="5.98" dy="2.3">2</tspan><tspan dy="-2.3">/NiSe</tspan><tspan font-size="5.98" dy="2.3">2</tspan><tspan dy="-2.3">||NiP</tspan><tspan font-size="5.98" dy="2.3">2</tspan><tspan dy="-2.3">/NiSe</tspan><tspan font-size="5.98" dy="2.3">2</tspan></text>
<line x1="290.9" y1="460.6" x2="490.5" y2="460.6" stroke="#1e1e1e" stroke-width="1.3" />
<line x1="290.9" y1="635.5" x2="490.5" y2="635.5" stroke="#1e1e1e" stroke-width="1.3" />
<line x1="290.9" y1="460.6" x2="290.9" y2="635.5" stroke="#1e1e1e" stroke-width="1.3" />
<line x1="490.5" y1="460.6" x2="490.5" y2="635.5" stroke="#1e1e1e" stroke-width="1.3" />
<line x1="290.9" y1="635.5" x2="287.9" y2="635.5" stroke="#1e1e1e" stroke-width="1" />
<line x1="290.9" y1="595.4" x2="287.9" y2="595.4" stroke="#1e1e1e" stroke-width="1" />
<line x1="290.9" y1="555.3" x2="287.9" y2="555.3" stroke="#1e1e1e" stroke-width="1" />
<line x1="290.9" y1="515.2" x2="287.9" y2="515.2" stroke="#1e1e1e" stroke-width="1" />
<line x1="290.9" y1="475.1" x2="287.9" y2="475.1" stroke="#1e1e1e" stroke-width="1" />
<line x1="290.9" y1="615.45" x2="288.9" y2="615.45" stroke="#1e1e1e" stroke-width="1" />
<line x1="290.9" y1="575.35" x2="288.9" y2="575.35" stroke="#1e1e1e" stroke-width="1" />
<line x1="290.9" y1="535.25" x2="288.9" y2="535.25" stroke="#1e1e1e" stroke-width="1" />
<line x1="290.9" y1="495.15" x2="288.9" y2="495.15" stroke="#1e1e1e" stroke-width="1" />
<line x1="297.2" y1="635.5" x2="297.2" y2="638.5" stroke="#1e1e1e" stroke-width="1" />
<line x1="309.65" y1="635.5" x2="309.65" y2="638.5" stroke="#1e1e1e" stroke-width="1" />
<line x1="322.1" y1="635.5" x2="322.1" y2="638.5" stroke="#1e1e1e" stroke-width="1" />
<line x1="334.55" y1="635.5" x2="334.55" y2="638.5" stroke="#1e1e1e" stroke-width="1" />
<line x1="347" y1="635.5" x2="347" y2="638.5" stroke="#1e1e1e" stroke-width="1" />
<line x1="359.45" y1="635.5" x2="359.45" y2="638.5" stroke="#1e1e1e" stroke-width="1" />
<line x1="371.9" y1="635.5" x2="371.9" y2="638.5" stroke="#1e1e1e" stroke-width="1" />
<line x1="384.35" y1="635.5" x2="384.35" y2="638.5" stroke="#1e1e1e" stroke-width="1" />
<line x1="396.8" y1="635.5" x2="396.8" y2="638.5" stroke="#1e1e1e" stroke-width="1" />
<line x1="409.25" y1="635.5" x2="409.25" y2="638.5" stroke="#1e1e1e" stroke-width="1" />
<line x1="421.7" y1="635.5" x2="421.7" y2="638.5" stroke="#1e1e1e" stroke-width="1" />
<line x1="434.15" y1="635.5" x2="434.15" y2="638.5" stroke="#1e1e1e" stroke-width="1" />
<line x1="446.6" y1="635.5" x2="446.6" y2="638.5" stroke="#1e1e1e" stroke-width="1" />
<line x1="459.05" y1="635.5" x2="459.05" y2="638.5" stroke="#1e1e1e" stroke-width="1" />
<line x1="471.5" y1="635.5" x2="471.5" y2="638.5" stroke="#1e1e1e" stroke-width="1" />
<line x1="483.95" y1="635.5" x2="483.95" y2="638.5" stroke="#1e1e1e" stroke-width="1" />
<text x="285.9" y="639.2" font-size="10.9" fill="#1a1a1a" text-anchor="end" >1.40</text>
<text x="285.9" y="599.1" font-size="10.9" fill="#1a1a1a" text-anchor="end" >1.45</text>
<text x="285.9" y="559" font-size="10.9" fill="#1a1a1a" text-anchor="end" >1.50</text>
<text x="285.9" y="518.9" font-size="10.9" fill="#1a1a1a" text-anchor="end" >1.55</text>
<text x="285.9" y="478.8" font-size="10.9" fill="#1a1a1a" text-anchor="end" >1.60</text>
<text x="390" y="659" font-size="10.8" fill="#1a1a1a" text-anchor="middle" >Overall water splitting</text>
<text x="260.6" y="548" font-size="11.8" fill="#1a1a1a" text-anchor="middle" transform="rotate(-90 260.6 548)" >Voltage (V)</text>
<text x="247.3" y="474.6" font-size="27.5" fill="#111" text-anchor="start" font-weight="bold" >h</text>
<path d="M537 632.3 C543.79 632.23 567.54 632.08 577.72 631.87 C587.9 631.65 591.29 631.51 598.08 631.01 C604.87 630.51 611.66 629.86 618.46 628.85 C625.25 627.85 633.17 626.34 638.85 624.98 C644.54 623.61 648.11 622.39 652.55 620.67 C656.98 618.95 661.49 616.94 665.47 614.64 C669.44 612.34 673.3 609.4 676.4 606.89 C679.51 604.37 681.94 601.93 684.1 599.56 C686.26 597.19 687.61 595.83 689.36 592.67 C691.1 589.51 692.94 585.2 694.57 580.61 C696.2 576.02 697.71 570.13 699.13 565.1 C700.55 560.08 701.77 555.34 703.1 550.46 C704.43 545.58 705.39 542.56 707.12 535.81 C708.86 529.06 711.61 518.29 713.51 509.97 C715.41 501.64 716.88 494.17 718.51 485.85 C720.14 477.52 722.5 464.31 723.29 460" fill="none" stroke="#e8d444" stroke-width="1.3" stroke-linejoin="round" stroke-linecap="round" />
<path d="M537 632.3 C543.79 632.23 567.54 632.08 577.72 631.87 C587.9 631.65 591.29 631.51 598.08 631.01 C604.87 630.51 611.66 629.86 618.45 628.85 C625.24 627.85 633.15 626.34 638.83 624.98 C644.5 623.61 648.07 622.39 652.5 620.67 C656.92 618.95 661.42 616.94 665.37 614.64 C669.33 612.34 673.16 609.4 676.24 606.89 C679.32 604.37 681.73 601.93 683.86 599.56 C685.99 597.19 687.33 595.83 689.04 592.67 C690.75 589.51 692.54 585.2 694.1 580.61 C695.67 576.02 697.09 570.13 698.43 565.1 C699.78 560.08 700.92 555.34 702.17 550.46 C703.42 545.58 704.32 542.56 705.93 535.81 C707.53 529.06 710.08 518.29 711.81 509.97 C713.53 501.64 714.84 494.17 716.28 485.85 C717.72 477.52 719.75 464.31 720.44 460" fill="none" stroke="#d4823a" stroke-width="1.3" stroke-linejoin="round" stroke-linecap="round" />
<path d="M537 632.3 C543.79 632.23 567.54 632.08 577.72 631.87 C587.9 631.65 591.29 631.51 598.08 631.01 C604.87 630.51 611.65 629.86 618.44 628.85 C625.22 627.85 633.13 626.34 638.79 624.98 C644.46 623.61 648.02 622.39 652.43 620.67 C656.84 618.95 661.32 616.94 665.25 614.64 C669.18 612.34 672.98 609.4 676.02 606.89 C679.07 604.37 681.44 601.93 683.54 599.56 C685.64 597.19 686.96 595.83 688.61 592.67 C690.27 589.51 691.99 585.2 693.47 580.61 C694.95 576.02 696.25 570.13 697.49 565.1 C698.73 560.08 699.77 555.34 700.9 550.46 C702.04 545.58 702.88 542.56 704.31 535.81 C705.74 529.06 708 518.29 709.49 509.97 C710.98 501.64 712.07 494.17 713.25 485.85 C714.43 477.52 716.02 464.31 716.58 460" fill="none" stroke="#6a98a8" stroke-width="1.3" stroke-linejoin="round" stroke-linecap="round" />
<path d="M537 632.3 C543.79 632.23 567.54 632.08 577.72 631.87 C587.9 631.65 591.29 631.51 598.08 631.01 C604.87 630.51 611.65 629.86 618.44 628.85 C625.23 627.85 633.14 626.34 638.81 624.98 C644.48 623.61 648.04 622.39 652.46 620.67 C656.87 618.95 661.35 616.94 665.29 614.64 C669.24 612.34 673.04 609.4 676.1 606.89 C679.17 604.37 681.55 601.93 683.66 599.56 C685.77 597.19 687.1 595.83 688.77 592.67 C690.45 589.51 692.19 585.2 693.7 580.61 C695.21 576.02 696.56 570.13 697.84 565.1 C699.12 560.08 700.19 555.34 701.37 550.46 C702.55 545.58 703.41 542.56 704.9 535.81 C706.4 529.06 708.77 518.29 710.34 509.97 C711.92 501.64 713.09 494.17 714.36 485.85 C715.64 477.52 717.39 464.31 718 460" fill="none" stroke="#6a5a28" stroke-width="1.3" stroke-linejoin="round" stroke-linecap="round" />
<rect x="550.2" y="514.4" width="55.8" height="50.7" fill="#d6d4d8" />
<rect x="606" y="514.4" width="56.6" height="50.7" fill="#d5cfd3" />
<rect x="550.2" y="565.1" width="55.8" height="49.8" fill="url(#gBL)" />
<rect x="606" y="565.1" width="56.6" height="49.8" fill="#cbcbd2" />
<path d="M606.5 586 Q612 580 620 583 L626 590 L642 590 Q648 581 656 582 Q661.5 584 662.6 590 L662.6 614.9 L606.5 614.9 Z" fill="url(#gGl)"/>
<path d="M614 598 Q620 590 627 596 L630 614.9 L618 614.9 Z" fill="#1f6aa8" opacity="0.55"/>
<path d="M636 596 Q644 588 652 598 L650 614.9 L640 614.9 Z" fill="#1f6aa8" opacity="0.55"/>
<path d="M558.5 527 L600 526.3 L601 531 L600.5 553.5 L558.2 554 L557.8 540 Z" fill="#171717"/>
<path d="M606.9 546 C612 545.5 618 546.5 624 549 L630 551.2 L643 537 L654.5 534 L656.5 541 L656 555 L634.6 556 L626 556.5 C618 554.5 612 552.5 606.9 552.5 Z" fill="#2a2525"/>
<rect x="645" y="543.5" width="17.6" height="6" fill="#5c5a5a" />
<path d="M565.5 590 C564.5 580 570 575.5 578 575.6 C586.5 575.7 590.5 582 589.5 592 C588.5 600 584.5 605.5 579 606.3 C573.5 606.8 567 602 565.5 590 Z M576 584 C575.8 588.5 576.5 593 578.5 595.5 C581 593 581.5 588 581 584 C580.4 581 576.4 581 576 584 Z" fill="#151515" fill-rule="evenodd"/>
<path d="M576.5 604 L576 614.9" stroke="#222" stroke-width="2"/>
<path d="M619.5 595 C618.5 582 625 575 633.5 575 C642 575 647.5 582 646.5 595 L640.5 592.5 C637.5 590 629.5 590 626.5 592.5 Z" fill="#161616"/>
<path d="M628 592.5 C631 590 636.5 590 639.5 592.5 L638.5 593.6 L629 593.6 Z" fill="#eeeeee"/>
<line x1="606" y1="514.4" x2="606" y2="614.9" stroke="#eceaee" stroke-width="0.8" />
<text x="578.5" y="522.8" font-size="9.9" fill="#2e3a8a" text-anchor="middle" font-family='"Liberation Serif", "Times New Roman", serif' font-style="italic" >original</text>
<text x="629.9" y="524.5" font-size="10.2" fill="#2e3a8a" text-anchor="middle" font-family='"Liberation Serif", "Times New Roman", serif' font-style="italic" >twisted</text>
<text x="576.1" y="573.6" font-size="9.9" fill="#2e3a8a" text-anchor="middle" font-family='"Liberation Serif", "Times New Roman", serif' font-style="italic" >curved</text>
<text x="630.9" y="572.5" font-size="9.8" fill="#2e3a8a" text-anchor="middle" font-family='"Liberation Serif", "Times New Roman", serif' font-style="italic" >compressed</text>
<line x1="537" y1="460" x2="740.6" y2="460" stroke="#1e1e1e" stroke-width="1.3" />
<line x1="537" y1="632.3" x2="740.6" y2="632.3" stroke="#1e1e1e" stroke-width="1.3" />
<line x1="537" y1="460" x2="537" y2="632.3" stroke="#1e1e1e" stroke-width="1.3" />
<line x1="740.6" y1="460" x2="740.6" y2="632.3" stroke="#1e1e1e" stroke-width="1.3" />
<line x1="537" y1="632.3" x2="534" y2="632.3" stroke="#1e1e1e" stroke-width="1" />
<line x1="537" y1="589.22" x2="534" y2="589.22" stroke="#1e1e1e" stroke-width="1" />
<line x1="537" y1="546.15" x2="534" y2="546.15" stroke="#1e1e1e" stroke-width="1" />
<line x1="537" y1="503.07" x2="534" y2="503.07" stroke="#1e1e1e" stroke-width="1" />
<line x1="537" y1="460" x2="534" y2="460" stroke="#1e1e1e" stroke-width="1" />
<line x1="537" y1="610.76" x2="535" y2="610.76" stroke="#1e1e1e" stroke-width="1" />
<line x1="537" y1="567.69" x2="535" y2="567.69" stroke="#1e1e1e" stroke-width="1" />
<line x1="537" y1="524.61" x2="535" y2="524.61" stroke="#1e1e1e" stroke-width="1" />
<line x1="537" y1="481.54" x2="535" y2="481.54" stroke="#1e1e1e" stroke-width="1" />
<line x1="537" y1="632.3" x2="537" y2="634.8" stroke="#1e1e1e" stroke-width="1" />
<line x1="577.72" y1="632.3" x2="577.72" y2="634.8" stroke="#1e1e1e" stroke-width="1" />
<line x1="618.44" y1="632.3" x2="618.44" y2="634.8" stroke="#1e1e1e" stroke-width="1" />
<line x1="659.16" y1="632.3" x2="659.16" y2="634.8" stroke="#1e1e1e" stroke-width="1" />
<line x1="699.88" y1="632.3" x2="699.88" y2="634.8" stroke="#1e1e1e" stroke-width="1" />
<line x1="740.6" y1="632.3" x2="740.6" y2="634.8" stroke="#1e1e1e" stroke-width="1" />
<line x1="557.36" y1="632.3" x2="557.36" y2="634.1" stroke="#1e1e1e" stroke-width="1" />
<line x1="598.08" y1="632.3" x2="598.08" y2="634.1" stroke="#1e1e1e" stroke-width="1" />
<line x1="638.8" y1="632.3" x2="638.8" y2="634.1" stroke="#1e1e1e" stroke-width="1" />
<line x1="679.52" y1="632.3" x2="679.52" y2="634.1" stroke="#1e1e1e" stroke-width="1" />
<line x1="720.24" y1="632.3" x2="720.24" y2="634.1" stroke="#1e1e1e" stroke-width="1" />
<text x="531.4" y="636.2" font-size="11.4" fill="#1a1a1a" text-anchor="end" >0</text>
<text x="531.4" y="593.12" font-size="11.4" fill="#1a1a1a" text-anchor="end" >100</text>
<text x="531.4" y="550.05" font-size="11.4" fill="#1a1a1a" text-anchor="end" >200</text>
<text x="531.4" y="506.97" font-size="11.4" fill="#1a1a1a" text-anchor="end" >300</text>
<text x="531.4" y="463.9" font-size="11.4" fill="#1a1a1a" text-anchor="end" >400</text>
<text x="537" y="650" font-size="11.3" fill="#1a1a1a" text-anchor="middle" >1.0</text>
<text x="577.72" y="650" font-size="11.3" fill="#1a1a1a" text-anchor="middle" >1.2</text>
<text x="618.44" y="650" font-size="11.3" fill="#1a1a1a" text-anchor="middle" >1.4</text>
<text x="659.16" y="650" font-size="11.3" fill="#1a1a1a" text-anchor="middle" >1.6</text>
<text x="699.88" y="650" font-size="11.3" fill="#1a1a1a" text-anchor="middle" >1.8</text>
<text x="740.6" y="650" font-size="11.3" fill="#1a1a1a" text-anchor="middle" >2.0</text>
<text x="639" y="662" font-size="12" fill="#1a1a1a" text-anchor="middle" >Voltage (V)</text>
<text x="509" y="553.2" font-size="12" fill="#1a1a1a" text-anchor="middle" transform="rotate(-90 509 553.2)"><tspan font-style="italic">j</tspan> (mA cm<tspan font-size="8.64" dy="-4.5">-2</tspan><tspan dy="4.5">)</tspan></text>
<text x="501.3" y="474.2" font-size="26" fill="#111" text-anchor="start" font-weight="bold" >i</text>
<line x1="551" y1="468.6" x2="572.4" y2="468.6" stroke="#6a98a8" stroke-width="1.6" />
<text x="574" y="471.9" font-size="9.2" fill="#5a8aa0" text-anchor="start" >original</text>
<line x1="551" y1="480" x2="572.4" y2="480" stroke="#5a5020" stroke-width="1.6" />
<text x="574" y="483.3" font-size="9.2" fill="#6a5020" text-anchor="start" >twisted</text>
<line x1="551" y1="491.4" x2="572.4" y2="491.4" stroke="#d07a30" stroke-width="1.6" />
<text x="574" y="494.7" font-size="9.2" fill="#d07a30" text-anchor="start" >curved</text>
<line x1="551" y1="502.8" x2="572.4" y2="502.8" stroke="#ecd840" stroke-width="1.6" />
<text x="574" y="506.1" font-size="9.2" fill="#e8d040" text-anchor="start" >compressed</text>
</svg>
</body></html>
